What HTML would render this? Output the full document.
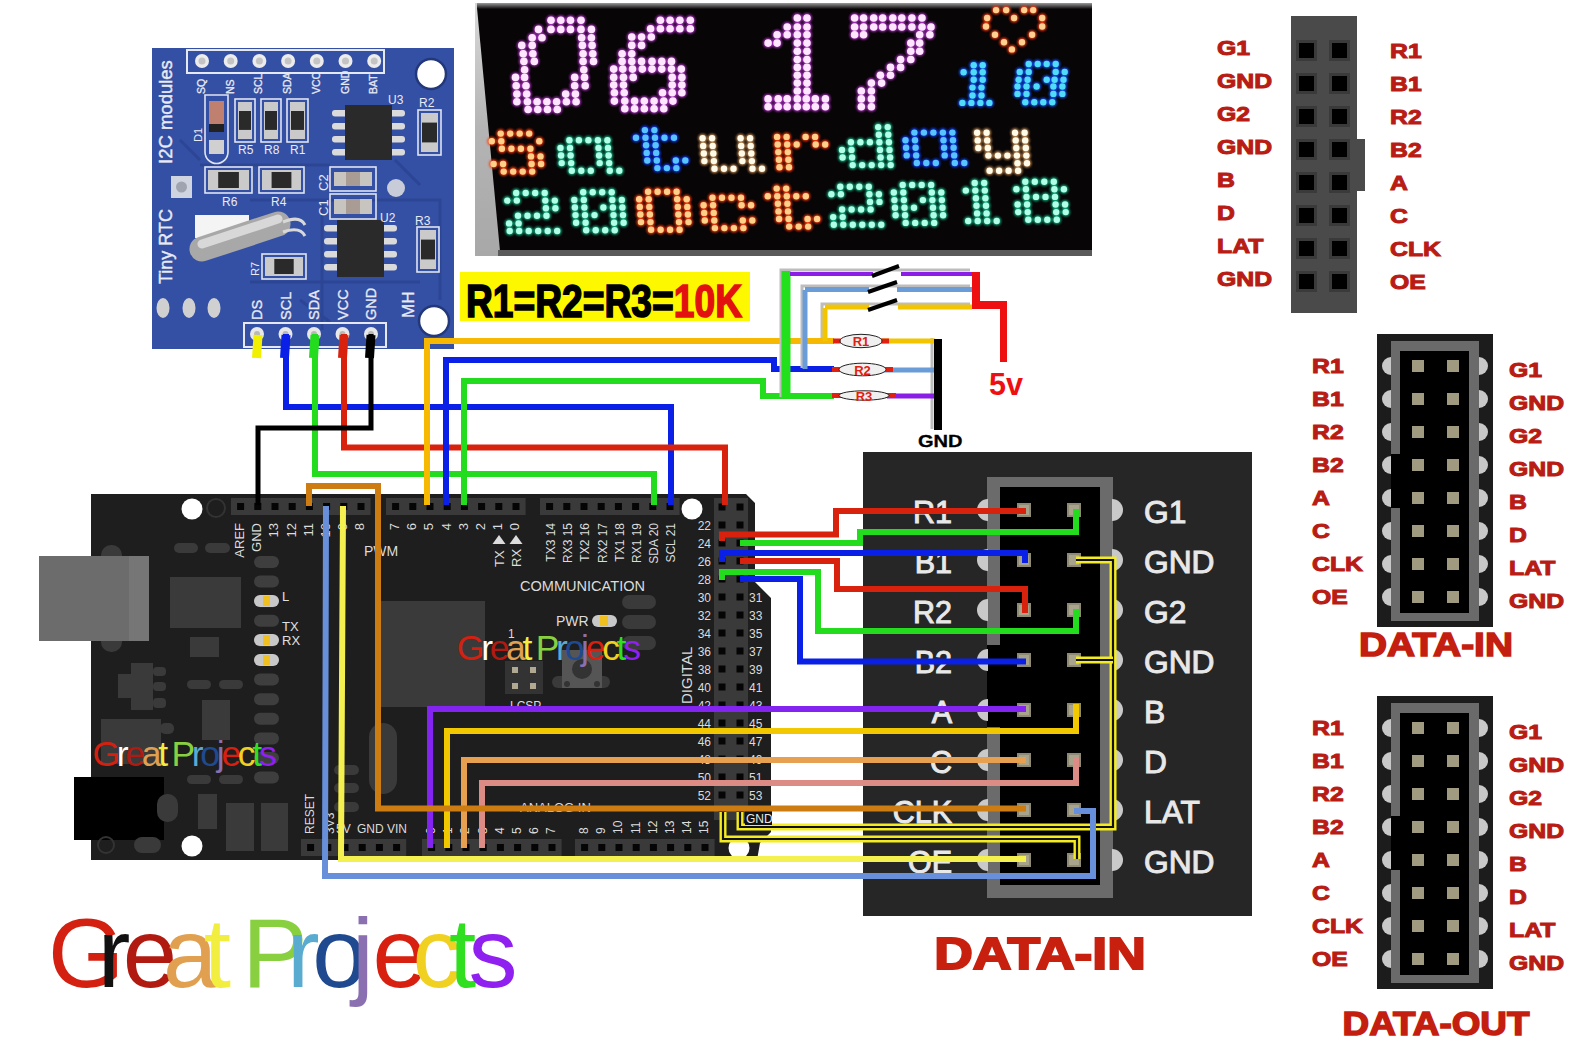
<!DOCTYPE html>
<html><head><meta charset="utf-8"><style>
html,body{margin:0;padding:0;background:#fff;}
svg{display:block;}
</style></head><body>
<svg width="1580" height="1045" viewBox="0 0 1580 1045">
<rect width="1580" height="1045" fill="#ffffff"/>
<g id="rtc">
<rect x="152" y="48" width="302" height="301" fill="#3450a4"/>
<path d="M200 165 L330 165 M250 200 L440 200 L440 300 M322 205 L322 330 M250 282 L420 282 M180 140 L200 160 M395 160 L420 185 M300 300 L330 322" stroke="#2c4594" stroke-width="3" fill="none"/>
<rect x="187" y="50" width="197" height="23" fill="none" stroke="#e6e8f0" stroke-width="2"/>
<circle cx="202.0" cy="61" r="7" fill="#ececec"/><circle cx="202.0" cy="61" r="3.5" fill="#c4c4c4"/>
<circle cx="230.7" cy="61" r="7" fill="#ececec"/><circle cx="230.7" cy="61" r="3.5" fill="#c4c4c4"/>
<circle cx="259.4" cy="61" r="7" fill="#ececec"/><circle cx="259.4" cy="61" r="3.5" fill="#c4c4c4"/>
<circle cx="288.1" cy="61" r="7" fill="#ececec"/><circle cx="288.1" cy="61" r="3.5" fill="#c4c4c4"/>
<circle cx="316.8" cy="61" r="7" fill="#ececec"/><circle cx="316.8" cy="61" r="3.5" fill="#c4c4c4"/>
<circle cx="345.5" cy="61" r="7" fill="#ececec"/><circle cx="345.5" cy="61" r="3.5" fill="#c4c4c4"/>
<circle cx="374.2" cy="61" r="7" fill="#ececec"/><circle cx="374.2" cy="61" r="3.5" fill="#c4c4c4"/>
<text transform="translate(205.0,94) rotate(-90)" font-family='"Liberation Sans", sans-serif' font-size="10.5" fill="#e8eaf4" stroke="#e8eaf4" stroke-width="0.3">SQ</text>
<text transform="translate(233.7,94) rotate(-90)" font-family='"Liberation Sans", sans-serif' font-size="10.5" fill="#e8eaf4" stroke="#e8eaf4" stroke-width="0.3">NS</text>
<text transform="translate(262.4,94) rotate(-90)" font-family='"Liberation Sans", sans-serif' font-size="10.5" fill="#e8eaf4" stroke="#e8eaf4" stroke-width="0.3">SCL</text>
<text transform="translate(291.1,94) rotate(-90)" font-family='"Liberation Sans", sans-serif' font-size="10.5" fill="#e8eaf4" stroke="#e8eaf4" stroke-width="0.3">SDA</text>
<text transform="translate(319.8,94) rotate(-90)" font-family='"Liberation Sans", sans-serif' font-size="10.5" fill="#e8eaf4" stroke="#e8eaf4" stroke-width="0.3">VCC</text>
<text transform="translate(348.5,94) rotate(-90)" font-family='"Liberation Sans", sans-serif' font-size="10.5" fill="#e8eaf4" stroke="#e8eaf4" stroke-width="0.3">GND</text>
<text transform="translate(377.2,94) rotate(-90)" font-family='"Liberation Sans", sans-serif' font-size="10.5" fill="#e8eaf4" stroke="#e8eaf4" stroke-width="0.3">BAT</text>
<circle cx="431" cy="74" r="15" fill="#fff" stroke="#23387a" stroke-width="2.5"/>
<circle cx="434" cy="321" r="15" fill="#fff" stroke="#23387a" stroke-width="2.5"/>
<rect x="332" y="110" width="17" height="6.5" rx="3" fill="#dadada"/>
<rect x="388" y="110" width="17" height="6.5" rx="3" fill="#dadada"/>
<rect x="332" y="123" width="17" height="6.5" rx="3" fill="#dadada"/>
<rect x="388" y="123" width="17" height="6.5" rx="3" fill="#dadada"/>
<rect x="332" y="136" width="17" height="6.5" rx="3" fill="#dadada"/>
<rect x="388" y="136" width="17" height="6.5" rx="3" fill="#dadada"/>
<rect x="332" y="149" width="17" height="6.5" rx="3" fill="#dadada"/>
<rect x="388" y="149" width="17" height="6.5" rx="3" fill="#dadada"/>
<rect x="345" y="105" width="47" height="55" fill="#2a2a2a"/>
<rect x="324" y="225" width="17" height="6.5" rx="3" fill="#dadada"/>
<rect x="380" y="225" width="17" height="6.5" rx="3" fill="#dadada"/>
<rect x="324" y="238" width="17" height="6.5" rx="3" fill="#dadada"/>
<rect x="380" y="238" width="17" height="6.5" rx="3" fill="#dadada"/>
<rect x="324" y="251" width="17" height="6.5" rx="3" fill="#dadada"/>
<rect x="380" y="251" width="17" height="6.5" rx="3" fill="#dadada"/>
<rect x="324" y="264" width="17" height="6.5" rx="3" fill="#dadada"/>
<rect x="380" y="264" width="17" height="6.5" rx="3" fill="#dadada"/>
<rect x="337" y="220" width="47" height="57" fill="#2a2a2a"/>
<rect x="235" y="99" width="20" height="43" fill="none" stroke="#e0e4f0" stroke-width="1.6"/>
<rect x="238" y="102" width="14" height="37" fill="#cacaca"/>
<rect x="239" y="111.0" width="12" height="18.9" fill="#2a2a2a"/>
<rect x="261" y="99" width="20" height="43" fill="none" stroke="#e0e4f0" stroke-width="1.6"/>
<rect x="264" y="102" width="14" height="37" fill="#cacaca"/>
<rect x="265" y="111.0" width="12" height="18.9" fill="#2a2a2a"/>
<rect x="287" y="99" width="21" height="43" fill="none" stroke="#e0e4f0" stroke-width="1.6"/>
<rect x="290" y="102" width="15" height="37" fill="#cacaca"/>
<rect x="291" y="111.0" width="13" height="18.9" fill="#2a2a2a"/>
<rect x="418" y="110" width="23" height="45" fill="none" stroke="#e0e4f0" stroke-width="1.6"/>
<rect x="421" y="113" width="17" height="39" fill="#cacaca"/>
<rect x="422" y="122.6" width="15" height="19.8" fill="#2a2a2a"/>
<rect x="417" y="227" width="22" height="45" fill="none" stroke="#e0e4f0" stroke-width="1.6"/>
<rect x="420" y="230" width="16" height="39" fill="#cacaca"/>
<rect x="421" y="239.6" width="14" height="19.8" fill="#2a2a2a"/>
<rect x="205" y="167" width="47" height="26" fill="none" stroke="#e0e4f0" stroke-width="1.6"/>
<rect x="208" y="170" width="41" height="20" fill="#cacaca"/>
<rect x="218.2" y="172" width="20.7" height="16" fill="#2a2a2a"/>
<rect x="259" y="167" width="45" height="26" fill="none" stroke="#e0e4f0" stroke-width="1.6"/>
<rect x="262" y="170" width="39" height="20" fill="#cacaca"/>
<rect x="271.6" y="172" width="19.8" height="16" fill="#2a2a2a"/>
<rect x="262" y="254" width="44" height="25" fill="none" stroke="#e0e4f0" stroke-width="1.6"/>
<rect x="265" y="257" width="38" height="19" fill="#cacaca"/>
<rect x="274.3" y="259" width="19.4" height="15" fill="#2a2a2a"/>
<rect x="330" y="167" width="46" height="24" fill="none" stroke="#e0e4f0" stroke-width="1.6"/>
<rect x="334" y="172" width="38" height="14" fill="#c8c4c0"/><rect x="346" y="172" width="14" height="14" fill="#a89c94"/>
<rect x="330" y="194" width="46" height="25" fill="none" stroke="#e0e4f0" stroke-width="1.6"/>
<rect x="334" y="199" width="38" height="15" fill="#c8c4c0"/><rect x="346" y="199" width="14" height="15" fill="#a89c94"/>
<path d="M205 95 H228 V152 A11.5 11.5 0 0 1 205 152 Z" fill="none" stroke="#e0e4f0" stroke-width="1.6"/>
<rect x="209" y="101" width="15" height="30" fill="#c08070"/><rect x="209" y="124" width="15" height="8" fill="#222"/><rect x="209" y="140" width="15" height="14" fill="#d0d0d0"/>
<rect x="171" y="176" width="21" height="22" fill="#d0d4e0"/><circle cx="181.5" cy="187" r="5.5" fill="#a0a4b0"/>
<circle cx="396" cy="188" r="9" fill="#c8ccd8"/>
<rect x="195" y="215" width="54" height="23" fill="#f4f4f4"/>
<line x1="202" y1="249" x2="278" y2="224" stroke="#a8a8a8" stroke-width="25" stroke-linecap="round"/>
<line x1="202" y1="244" x2="278" y2="219" stroke="#d8d8d8" stroke-width="9" stroke-linecap="round"/>
<path d="M283 222 Q300 215 305 225 M283 232 Q300 226 305 236" stroke="#d8d8d8" stroke-width="3" fill="none"/>
<ellipse cx="163" cy="308" rx="6.5" ry="10" fill="#d0d0d0"/>
<ellipse cx="189" cy="308" rx="6.5" ry="10" fill="#d0d0d0"/>
<ellipse cx="214" cy="308" rx="6.5" ry="10" fill="#d0d0d0"/>
<text transform="translate(172,164) rotate(-90)" font-family='"Liberation Sans", sans-serif' font-size="18.5" fill="#e8eaf4" stroke="#e8eaf4" stroke-width="0.4">I2C  modules</text>
<text transform="translate(172,284) rotate(-90)" font-family='"Liberation Sans", sans-serif' font-size="18" fill="#e8eaf4" stroke="#e8eaf4" stroke-width="0.4">Tiny RTC</text>
<text x="238" y="154" font-family='"Liberation Sans", sans-serif' font-size="12" fill="#e8eaf4">R5</text>
<text x="264" y="154" font-family='"Liberation Sans", sans-serif' font-size="12" fill="#e8eaf4">R8</text>
<text x="290" y="154" font-family='"Liberation Sans", sans-serif' font-size="12" fill="#e8eaf4">R1</text>
<text x="222" y="206" font-family='"Liberation Sans", sans-serif' font-size="12" fill="#e8eaf4">R6</text>
<text x="271" y="206" font-family='"Liberation Sans", sans-serif' font-size="12" fill="#e8eaf4">R4</text>
<text x="388" y="104" font-family='"Liberation Sans", sans-serif' font-size="12" fill="#e8eaf4">U3</text>
<text x="419" y="107" font-family='"Liberation Sans", sans-serif' font-size="12" fill="#e8eaf4">R2</text>
<text x="380" y="222" font-family='"Liberation Sans", sans-serif' font-size="12" fill="#e8eaf4">U2</text>
<text x="415" y="225" font-family='"Liberation Sans", sans-serif' font-size="12" fill="#e8eaf4">R3</text>
<text transform="translate(328,191) rotate(-90)" font-family='"Liberation Sans", sans-serif' font-size="13" fill="#e8eaf4">C2</text>
<text transform="translate(328,216) rotate(-90)" font-family='"Liberation Sans", sans-serif' font-size="13" fill="#e8eaf4">C1</text>
<text transform="translate(202,142) rotate(-90)" font-family='"Liberation Sans", sans-serif' font-size="11" fill="#e8eaf4">D1</text>
<text transform="translate(259,276) rotate(-90)" font-family='"Liberation Sans", sans-serif' font-size="11" fill="#e8eaf4">R7</text>
<text transform="translate(262.0,320) rotate(-90)" font-family='"Liberation Sans", sans-serif' font-size="14.5" fill="#e8eaf4" stroke="#e8eaf4" stroke-width="0.3">DS</text>
<text transform="translate(290.6,320) rotate(-90)" font-family='"Liberation Sans", sans-serif' font-size="14.5" fill="#e8eaf4" stroke="#e8eaf4" stroke-width="0.3">SCL</text>
<text transform="translate(319.2,320) rotate(-90)" font-family='"Liberation Sans", sans-serif' font-size="14.5" fill="#e8eaf4" stroke="#e8eaf4" stroke-width="0.3">SDA</text>
<text transform="translate(347.8,320) rotate(-90)" font-family='"Liberation Sans", sans-serif' font-size="14.5" fill="#e8eaf4" stroke="#e8eaf4" stroke-width="0.3">VCC</text>
<text transform="translate(376.4,320) rotate(-90)" font-family='"Liberation Sans", sans-serif' font-size="14.5" fill="#e8eaf4" stroke="#e8eaf4" stroke-width="0.3">GND</text>
<text transform="translate(414,318) rotate(-90)" font-family='"Liberation Sans", sans-serif' font-size="17" fill="#e8eaf4" stroke="#e8eaf4" stroke-width="0.3">MH</text>
<rect x="244" y="323" width="142" height="24" fill="none" stroke="#e6e8f0" stroke-width="2"/>
<circle cx="257.0" cy="334" r="7" fill="#e8e8e8"/><circle cx="257.0" cy="334" r="3" fill="#b8b8b8"/>
<circle cx="285.5" cy="334" r="7" fill="#e8e8e8"/><circle cx="285.5" cy="334" r="3" fill="#b8b8b8"/>
<circle cx="314.0" cy="334" r="7" fill="#e8e8e8"/><circle cx="314.0" cy="334" r="3" fill="#b8b8b8"/>
<circle cx="342.5" cy="334" r="7" fill="#e8e8e8"/><circle cx="342.5" cy="334" r="3" fill="#b8b8b8"/>
<circle cx="371.0" cy="334" r="7" fill="#e8e8e8"/><circle cx="371.0" cy="334" r="3" fill="#b8b8b8"/>
</g>
<defs><linearGradient id="pg" x1="0" y1="0" x2="0" y2="1"><stop offset="0" stop-color="#d8d8d8"/><stop offset="0.5" stop-color="#b4b4b4"/><stop offset="1" stop-color="#a8a8a8"/></linearGradient></defs>
<defs><linearGradient id="tg" x1="0" y1="0" x2="0" y2="1"><stop offset="0" stop-color="#9a9a9a"/><stop offset="1" stop-color="#0a0808"/></linearGradient></defs>
<rect x="475" y="3" width="617" height="253" fill="url(#pg)"/>
<polygon points="477,8 1092,5 1092,251 500,251" fill="#080506"/>
<rect x="477" y="3" width="615" height="6" fill="url(#tg)"/>
<rect x="498" y="250" width="594" height="6" fill="#5a5a5a"/>
<rect x="460" y="272" width="290" height="49" fill="#fdf800"/>
<text x="466" y="317" font-family='"Liberation Sans", sans-serif' font-size="46" font-weight="bold" fill="#000" stroke="#000" stroke-width="1.6" textLength="276" lengthAdjust="spacingAndGlyphs">R1=R2=R3=<tspan fill="#e31010" stroke="#e31010">10K</tspan></text>
<g id="ard">
<polygon points="91,494 746,494 755,503 755,582 771,598 771,832 760,843 757,860 91,860" fill="#1e1e1e"/>
<rect x="101" y="545" width="21" height="107" rx="10" fill="#3a3a3a"/>
<rect x="39" y="556" width="90" height="85" fill="#6c6c6c"/><rect x="129" y="556" width="20" height="85" fill="#767676"/>
<rect x="74" y="777" width="90" height="63" fill="#000"/>
<circle cx="192" cy="509" r="10.5" fill="#fff"/>
<circle cx="192" cy="846" r="10.5" fill="#fff"/>
<circle cx="692" cy="509" r="10.5" fill="#fff"/>
<circle cx="739" cy="848" r="10.5" fill="#fff"/>
<circle cx="216" cy="508" r="9" fill="none" stroke="#333" stroke-width="2"/>
<circle cx="106" cy="845" r="8" fill="none" stroke="#333" stroke-width="2"/>
<rect x="170" y="577" width="71" height="51" rx="0" fill="#3a3a3a"/>
<rect x="190" y="637" width="29" height="20" rx="0" fill="#3a3a3a"/>
<rect x="202" y="700" width="28" height="40" rx="0" fill="#3a3a3a"/>
<rect x="375" y="601" width="110" height="106" rx="0" fill="#3a3a3a"/>
<rect x="198" y="794" width="19" height="35" rx="0" fill="#3a3a3a"/>
<rect x="226" y="803" width="28" height="48" rx="0" fill="#3a3a3a"/>
<rect x="261" y="803" width="27" height="48" rx="0" fill="#3a3a3a"/>
<rect x="131" y="663" width="22" height="47" rx="0" fill="#3a3a3a"/>
<rect x="118" y="674" width="14" height="24" rx="0" fill="#3a3a3a"/>
<rect x="153" y="667" width="13" height="9" rx="4" fill="#3a3a3a"/>
<rect x="153" y="682" width="13" height="9" rx="4" fill="#3a3a3a"/>
<rect x="153" y="698" width="13" height="10" rx="4" fill="#3a3a3a"/>
<rect x="101" y="719" width="60" height="45" rx="0" fill="#3a3a3a"/>
<rect x="160" y="723" width="14" height="11" rx="5" fill="#3a3a3a"/>
<rect x="157" y="794" width="21" height="28" rx="10" fill="#3a3a3a"/>
<rect x="134" y="837" width="27" height="16" rx="8" fill="#3a3a3a"/>
<rect x="369" y="723" width="28" height="71" rx="14" fill="#3a3a3a"/>
<rect x="174" y="543" width="24" height="10" rx="5" fill="#3a3a3a"/>
<rect x="205" y="543" width="25" height="10" rx="5" fill="#3a3a3a"/>
<rect x="187" y="680" width="24" height="9" rx="4.5" fill="#3a3a3a"/>
<rect x="219" y="680" width="24" height="9" rx="4.5" fill="#3a3a3a"/>
<rect x="187" y="775" width="24" height="9" rx="4.5" fill="#3a3a3a"/>
<rect x="219" y="775" width="24" height="9" rx="4.5" fill="#3a3a3a"/>
<rect x="334" y="765" width="25" height="10" rx="5" fill="#3a3a3a"/>
<rect x="334" y="783" width="25" height="10" rx="5" fill="#3a3a3a"/>
<rect x="334" y="802" width="25" height="10" rx="5" fill="#3a3a3a"/>
<rect x="254" y="556.0" width="25" height="12" rx="6" fill="#3e3e3e"/>
<rect x="254" y="575.6" width="25" height="12" rx="6" fill="#3e3e3e"/>
<rect x="254" y="595.2" width="25" height="12" rx="6" fill="#3e3e3e"/>
<rect x="254" y="614.8" width="25" height="12" rx="6" fill="#3e3e3e"/>
<rect x="254" y="634.4" width="25" height="12" rx="6" fill="#3e3e3e"/>
<rect x="254" y="654.0" width="25" height="12" rx="6" fill="#3e3e3e"/>
<rect x="254" y="673.6" width="25" height="12" rx="6" fill="#3e3e3e"/>
<rect x="254" y="693.2" width="25" height="12" rx="6" fill="#3e3e3e"/>
<rect x="254" y="712.8" width="25" height="12" rx="6" fill="#3e3e3e"/>
<rect x="254" y="732.4" width="25" height="12" rx="6" fill="#3e3e3e"/>
<rect x="254" y="752.0" width="25" height="12" rx="6" fill="#3e3e3e"/>
<rect x="254" y="771.6" width="25" height="12" rx="6" fill="#3e3e3e"/>
<rect x="254" y="595" width="25" height="12" rx="6" fill="#c8c8c8"/><rect x="263" y="596" width="7" height="10" fill="#f0c020"/>
<rect x="254" y="634" width="25" height="12" rx="6" fill="#c8c8c8"/><rect x="263" y="635" width="7" height="10" fill="#f0c020"/>
<rect x="254" y="654" width="25" height="12" rx="6" fill="#c8c8c8"/><rect x="263" y="655" width="7" height="10" fill="#f0c020"/>
<text x="282" y="601" font-family='"Liberation Sans", sans-serif' font-size="13" fill="#e0e0e0">L</text>
<text x="282" y="631" font-family='"Liberation Sans", sans-serif' font-size="13" fill="#e0e0e0">TX</text>
<text x="282" y="645" font-family='"Liberation Sans", sans-serif' font-size="13" fill="#e0e0e0">RX</text>
<rect x="231" y="498" width="139.6" height="17" fill="#3a3a3a"/>
<rect x="237.1" y="503.0" width="7" height="7" fill="#050505"/>
<rect x="254.3" y="503.0" width="7" height="7" fill="#050505"/>
<rect x="271.5" y="503.0" width="7" height="7" fill="#050505"/>
<rect x="288.7" y="503.0" width="7" height="7" fill="#050505"/>
<rect x="305.9" y="503.0" width="7" height="7" fill="#050505"/>
<rect x="323.1" y="503.0" width="7" height="7" fill="#050505"/>
<rect x="340.3" y="503.0" width="7" height="7" fill="#050505"/>
<rect x="357.5" y="503.0" width="7" height="7" fill="#050505"/>
<rect x="386" y="498" width="139.6" height="17" fill="#3a3a3a"/>
<rect x="392.1" y="503.0" width="7" height="7" fill="#050505"/>
<rect x="409.3" y="503.0" width="7" height="7" fill="#050505"/>
<rect x="426.5" y="503.0" width="7" height="7" fill="#050505"/>
<rect x="443.7" y="503.0" width="7" height="7" fill="#050505"/>
<rect x="460.9" y="503.0" width="7" height="7" fill="#050505"/>
<rect x="478.1" y="503.0" width="7" height="7" fill="#050505"/>
<rect x="495.3" y="503.0" width="7" height="7" fill="#050505"/>
<rect x="512.5" y="503.0" width="7" height="7" fill="#050505"/>
<rect x="540" y="498" width="139.6" height="17" fill="#3a3a3a"/>
<rect x="546.1" y="503.0" width="7" height="7" fill="#050505"/>
<rect x="563.3" y="503.0" width="7" height="7" fill="#050505"/>
<rect x="580.5" y="503.0" width="7" height="7" fill="#050505"/>
<rect x="597.7" y="503.0" width="7" height="7" fill="#050505"/>
<rect x="614.9" y="503.0" width="7" height="7" fill="#050505"/>
<rect x="632.1" y="503.0" width="7" height="7" fill="#050505"/>
<rect x="649.3" y="503.0" width="7" height="7" fill="#050505"/>
<rect x="666.5" y="503.0" width="7" height="7" fill="#050505"/>
<rect x="301" y="839" width="105.2" height="17" fill="#3a3a3a"/>
<rect x="307.1" y="844.0" width="7" height="7" fill="#050505"/>
<rect x="324.3" y="844.0" width="7" height="7" fill="#050505"/>
<rect x="341.5" y="844.0" width="7" height="7" fill="#050505"/>
<rect x="358.7" y="844.0" width="7" height="7" fill="#050505"/>
<rect x="375.9" y="844.0" width="7" height="7" fill="#050505"/>
<rect x="393.1" y="844.0" width="7" height="7" fill="#050505"/>
<rect x="422" y="839" width="139.6" height="17" fill="#3a3a3a"/>
<rect x="428.1" y="844.0" width="7" height="7" fill="#050505"/>
<rect x="445.3" y="844.0" width="7" height="7" fill="#050505"/>
<rect x="462.5" y="844.0" width="7" height="7" fill="#050505"/>
<rect x="479.7" y="844.0" width="7" height="7" fill="#050505"/>
<rect x="496.9" y="844.0" width="7" height="7" fill="#050505"/>
<rect x="514.1" y="844.0" width="7" height="7" fill="#050505"/>
<rect x="531.3" y="844.0" width="7" height="7" fill="#050505"/>
<rect x="548.5" y="844.0" width="7" height="7" fill="#050505"/>
<rect x="575" y="839" width="139.6" height="17" fill="#3a3a3a"/>
<rect x="581.1" y="844.0" width="7" height="7" fill="#050505"/>
<rect x="598.3" y="844.0" width="7" height="7" fill="#050505"/>
<rect x="615.5" y="844.0" width="7" height="7" fill="#050505"/>
<rect x="632.7" y="844.0" width="7" height="7" fill="#050505"/>
<rect x="649.9" y="844.0" width="7" height="7" fill="#050505"/>
<rect x="667.1" y="844.0" width="7" height="7" fill="#050505"/>
<rect x="684.3" y="844.0" width="7" height="7" fill="#050505"/>
<rect x="701.5" y="844.0" width="7" height="7" fill="#050505"/>
<rect x="714" y="498" width="34" height="314" fill="#3a3a3a"/>
<rect x="718.5" y="503.5" width="7" height="7" fill="#050505"/>
<rect x="736.5" y="503.5" width="7" height="7" fill="#050505"/>
<rect x="718.5" y="521.5" width="7" height="7" fill="#050505"/>
<rect x="736.5" y="521.5" width="7" height="7" fill="#050505"/>
<rect x="718.5" y="539.5" width="7" height="7" fill="#050505"/>
<rect x="736.5" y="539.5" width="7" height="7" fill="#050505"/>
<rect x="718.5" y="557.5" width="7" height="7" fill="#050505"/>
<rect x="736.5" y="557.5" width="7" height="7" fill="#050505"/>
<rect x="718.5" y="575.5" width="7" height="7" fill="#050505"/>
<rect x="736.5" y="575.5" width="7" height="7" fill="#050505"/>
<rect x="718.5" y="593.5" width="7" height="7" fill="#050505"/>
<rect x="736.5" y="593.5" width="7" height="7" fill="#050505"/>
<rect x="718.5" y="611.5" width="7" height="7" fill="#050505"/>
<rect x="736.5" y="611.5" width="7" height="7" fill="#050505"/>
<rect x="718.5" y="629.5" width="7" height="7" fill="#050505"/>
<rect x="736.5" y="629.5" width="7" height="7" fill="#050505"/>
<rect x="718.5" y="647.5" width="7" height="7" fill="#050505"/>
<rect x="736.5" y="647.5" width="7" height="7" fill="#050505"/>
<rect x="718.5" y="665.5" width="7" height="7" fill="#050505"/>
<rect x="736.5" y="665.5" width="7" height="7" fill="#050505"/>
<rect x="718.5" y="683.5" width="7" height="7" fill="#050505"/>
<rect x="736.5" y="683.5" width="7" height="7" fill="#050505"/>
<rect x="718.5" y="701.5" width="7" height="7" fill="#050505"/>
<rect x="736.5" y="701.5" width="7" height="7" fill="#050505"/>
<rect x="718.5" y="719.5" width="7" height="7" fill="#050505"/>
<rect x="736.5" y="719.5" width="7" height="7" fill="#050505"/>
<rect x="718.5" y="737.5" width="7" height="7" fill="#050505"/>
<rect x="736.5" y="737.5" width="7" height="7" fill="#050505"/>
<rect x="718.5" y="755.5" width="7" height="7" fill="#050505"/>
<rect x="736.5" y="755.5" width="7" height="7" fill="#050505"/>
<rect x="718.5" y="773.5" width="7" height="7" fill="#050505"/>
<rect x="736.5" y="773.5" width="7" height="7" fill="#050505"/>
<rect x="718.5" y="791.5" width="7" height="7" fill="#050505"/>
<rect x="736.5" y="791.5" width="7" height="7" fill="#050505"/>
<rect x="718.5" y="809.5" width="7" height="7" fill="#050505"/>
<rect x="736.5" y="809.5" width="7" height="7" fill="#050505"/>
<text transform="translate(244.0,523) rotate(-90)" text-anchor="end" font-family='"Liberation Sans", sans-serif' font-size="13" fill="#dcdcdc">AREF</text>
<text transform="translate(261.2,523) rotate(-90)" text-anchor="end" font-family='"Liberation Sans", sans-serif' font-size="13" fill="#dcdcdc">GND</text>
<text transform="translate(278.4,523) rotate(-90)" text-anchor="end" font-family='"Liberation Sans", sans-serif' font-size="13" fill="#dcdcdc">13</text>
<text transform="translate(295.6,523) rotate(-90)" text-anchor="end" font-family='"Liberation Sans", sans-serif' font-size="13" fill="#dcdcdc">12</text>
<text transform="translate(312.8,523) rotate(-90)" text-anchor="end" font-family='"Liberation Sans", sans-serif' font-size="13" fill="#dcdcdc">11</text>
<text transform="translate(330.0,523) rotate(-90)" text-anchor="end" font-family='"Liberation Sans", sans-serif' font-size="13" fill="#dcdcdc">10</text>
<text transform="translate(347.2,523) rotate(-90)" text-anchor="end" font-family='"Liberation Sans", sans-serif' font-size="13" fill="#dcdcdc">9</text>
<text transform="translate(364.4,523) rotate(-90)" text-anchor="end" font-family='"Liberation Sans", sans-serif' font-size="13" fill="#dcdcdc">8</text>
<text transform="translate(399.0,523) rotate(-90)" text-anchor="end" font-family='"Liberation Sans", sans-serif' font-size="13" fill="#dcdcdc">7</text>
<text transform="translate(416.2,523) rotate(-90)" text-anchor="end" font-family='"Liberation Sans", sans-serif' font-size="13" fill="#dcdcdc">6</text>
<text transform="translate(433.4,523) rotate(-90)" text-anchor="end" font-family='"Liberation Sans", sans-serif' font-size="13" fill="#dcdcdc">5</text>
<text transform="translate(450.6,523) rotate(-90)" text-anchor="end" font-family='"Liberation Sans", sans-serif' font-size="13" fill="#dcdcdc">4</text>
<text transform="translate(467.8,523) rotate(-90)" text-anchor="end" font-family='"Liberation Sans", sans-serif' font-size="13" fill="#dcdcdc">3</text>
<text transform="translate(485.0,523) rotate(-90)" text-anchor="end" font-family='"Liberation Sans", sans-serif' font-size="13" fill="#dcdcdc">2</text>
<text transform="translate(502.2,523) rotate(-90)" text-anchor="end" font-family='"Liberation Sans", sans-serif' font-size="13" fill="#dcdcdc">1</text>
<text transform="translate(519.4,523) rotate(-90)" text-anchor="end" font-family='"Liberation Sans", sans-serif' font-size="13" fill="#dcdcdc">0</text>
<text transform="translate(555.0,523) rotate(-90)" text-anchor="end" font-family='"Liberation Sans", sans-serif' font-size="12" fill="#dcdcdc">TX3 14</text>
<text transform="translate(572.2,523) rotate(-90)" text-anchor="end" font-family='"Liberation Sans", sans-serif' font-size="12" fill="#dcdcdc">RX3 15</text>
<text transform="translate(589.4,523) rotate(-90)" text-anchor="end" font-family='"Liberation Sans", sans-serif' font-size="12" fill="#dcdcdc">TX2 16</text>
<text transform="translate(606.6,523) rotate(-90)" text-anchor="end" font-family='"Liberation Sans", sans-serif' font-size="12" fill="#dcdcdc">RX2 17</text>
<text transform="translate(623.8,523) rotate(-90)" text-anchor="end" font-family='"Liberation Sans", sans-serif' font-size="12" fill="#dcdcdc">TX1 18</text>
<text transform="translate(641.0,523) rotate(-90)" text-anchor="end" font-family='"Liberation Sans", sans-serif' font-size="12" fill="#dcdcdc">RX1 19</text>
<text transform="translate(658.2,523) rotate(-90)" text-anchor="end" font-family='"Liberation Sans", sans-serif' font-size="12" fill="#dcdcdc">SDA 20</text>
<text transform="translate(675.4,523) rotate(-90)" text-anchor="end" font-family='"Liberation Sans", sans-serif' font-size="12" fill="#dcdcdc">SCL 21</text>
<polygon points="499,535 492.5,544 505.5,544" fill="#dcdcdc"/><polygon points="516,535 509.5,544 522.5,544" fill="#dcdcdc"/>
<text transform="translate(504,567) rotate(-90)" font-family='"Liberation Sans", sans-serif' font-size="13" fill="#dcdcdc">TX</text>
<text transform="translate(521,567) rotate(-90)" font-family='"Liberation Sans", sans-serif' font-size="13" fill="#dcdcdc">RX</text>
<text x="364" y="556" font-family='"Liberation Sans", sans-serif' font-size="14" fill="#dcdcdc">PWM</text>
<text x="520" y="591" font-family='"Liberation Sans", sans-serif' font-size="14" fill="#dcdcdc" textLength="125" lengthAdjust="spacingAndGlyphs">COMMUNICATION</text>
<text x="556" y="626" font-family='"Liberation Sans", sans-serif' font-size="14" fill="#dcdcdc">PWR</text>
<rect x="592" y="615" width="25" height="12" rx="6" fill="#c8c8c8"/><rect x="600" y="616" width="8" height="10" fill="#f0c020"/>
<rect x="622" y="615" width="34" height="14" rx="7" fill="#3a3a3a"/><rect x="622" y="595" width="34" height="14" rx="7" fill="#3a3a3a"/><rect x="622" y="636" width="34" height="14" rx="7" fill="#3a3a3a"/>
<text x="508" y="638" font-family='"Liberation Sans", sans-serif' font-size="12" fill="#dcdcdc">1</text>
<rect x="505" y="661" width="38" height="33" fill="#333"/>
<rect x="512" y="667" width="6" height="6" fill="#b0a890"/>
<rect x="530" y="667" width="6" height="6" fill="#b0a890"/>
<rect x="512" y="683" width="6" height="6" fill="#b0a890"/>
<rect x="530" y="683" width="6" height="6" fill="#b0a890"/>
<text x="510" y="710" font-family='"Liberation Sans", sans-serif' font-size="12" fill="#dcdcdc">LCSP</text>
<rect x="552" y="676" width="58" height="12" rx="6" fill="#3a3a3a"/>
<rect x="562" y="650" width="40" height="38" fill="#555"/><circle cx="582" cy="669" r="10" fill="#333"/>
<circle cx="567" cy="684" r="3" fill="#333"/><circle cx="597" cy="684" r="3" fill="#333"/>
<text transform="translate(692,704) rotate(-90)" font-family='"Liberation Sans", sans-serif' font-size="15" fill="#dcdcdc">DIGITAL</text>
<text x="711" y="530" text-anchor="end" font-family='"Liberation Sans", sans-serif' font-size="12" fill="#dcdcdc">22</text>
<text x="711" y="548" text-anchor="end" font-family='"Liberation Sans", sans-serif' font-size="12" fill="#dcdcdc">24</text>
<text x="711" y="566" text-anchor="end" font-family='"Liberation Sans", sans-serif' font-size="12" fill="#dcdcdc">26</text>
<text x="711" y="584" text-anchor="end" font-family='"Liberation Sans", sans-serif' font-size="12" fill="#dcdcdc">28</text>
<text x="711" y="602" text-anchor="end" font-family='"Liberation Sans", sans-serif' font-size="12" fill="#dcdcdc">30</text>
<text x="749" y="602" font-family='"Liberation Sans", sans-serif' font-size="12" fill="#dcdcdc">31</text>
<text x="711" y="620" text-anchor="end" font-family='"Liberation Sans", sans-serif' font-size="12" fill="#dcdcdc">32</text>
<text x="749" y="620" font-family='"Liberation Sans", sans-serif' font-size="12" fill="#dcdcdc">33</text>
<text x="711" y="638" text-anchor="end" font-family='"Liberation Sans", sans-serif' font-size="12" fill="#dcdcdc">34</text>
<text x="749" y="638" font-family='"Liberation Sans", sans-serif' font-size="12" fill="#dcdcdc">35</text>
<text x="711" y="656" text-anchor="end" font-family='"Liberation Sans", sans-serif' font-size="12" fill="#dcdcdc">36</text>
<text x="749" y="656" font-family='"Liberation Sans", sans-serif' font-size="12" fill="#dcdcdc">37</text>
<text x="711" y="674" text-anchor="end" font-family='"Liberation Sans", sans-serif' font-size="12" fill="#dcdcdc">38</text>
<text x="749" y="674" font-family='"Liberation Sans", sans-serif' font-size="12" fill="#dcdcdc">39</text>
<text x="711" y="692" text-anchor="end" font-family='"Liberation Sans", sans-serif' font-size="12" fill="#dcdcdc">40</text>
<text x="749" y="692" font-family='"Liberation Sans", sans-serif' font-size="12" fill="#dcdcdc">41</text>
<text x="711" y="710" text-anchor="end" font-family='"Liberation Sans", sans-serif' font-size="12" fill="#dcdcdc">42</text>
<text x="749" y="710" font-family='"Liberation Sans", sans-serif' font-size="12" fill="#dcdcdc">43</text>
<text x="711" y="728" text-anchor="end" font-family='"Liberation Sans", sans-serif' font-size="12" fill="#dcdcdc">44</text>
<text x="749" y="728" font-family='"Liberation Sans", sans-serif' font-size="12" fill="#dcdcdc">45</text>
<text x="711" y="746" text-anchor="end" font-family='"Liberation Sans", sans-serif' font-size="12" fill="#dcdcdc">46</text>
<text x="749" y="746" font-family='"Liberation Sans", sans-serif' font-size="12" fill="#dcdcdc">47</text>
<text x="711" y="764" text-anchor="end" font-family='"Liberation Sans", sans-serif' font-size="12" fill="#dcdcdc">48</text>
<text x="749" y="764" font-family='"Liberation Sans", sans-serif' font-size="12" fill="#dcdcdc">49</text>
<text x="711" y="782" text-anchor="end" font-family='"Liberation Sans", sans-serif' font-size="12" fill="#dcdcdc">50</text>
<text x="749" y="782" font-family='"Liberation Sans", sans-serif' font-size="12" fill="#dcdcdc">51</text>
<text x="711" y="800" text-anchor="end" font-family='"Liberation Sans", sans-serif' font-size="12" fill="#dcdcdc">52</text>
<text x="749" y="800" font-family='"Liberation Sans", sans-serif' font-size="12" fill="#dcdcdc">53</text>
<text x="520" y="812" font-family='"Liberation Sans", sans-serif' font-size="13" fill="#dcdcdc">ANALOG IN</text>
<rect x="714" y="812" width="34" height="8" fill="#3a3a3a"/>
<text transform="translate(314,834) rotate(-90)" font-family='"Liberation Sans", sans-serif' font-size="12" fill="#dcdcdc">RESET</text>
<text transform="translate(334,834) rotate(-90)" font-family='"Liberation Sans", sans-serif' font-size="12" fill="#dcdcdc">3V3</text>
<text x="336" y="833" font-family='"Liberation Sans", sans-serif' font-size="12" fill="#dcdcdc">5V</text>
<text x="357" y="833" font-family='"Liberation Sans", sans-serif' font-size="12" fill="#dcdcdc">GND VIN</text>
<text transform="translate(435.0,834) rotate(-90)" font-family='"Liberation Sans", sans-serif' font-size="12" fill="#dcdcdc">0</text>
<text transform="translate(452.2,834) rotate(-90)" font-family='"Liberation Sans", sans-serif' font-size="12" fill="#dcdcdc">1</text>
<text transform="translate(469.4,834) rotate(-90)" font-family='"Liberation Sans", sans-serif' font-size="12" fill="#dcdcdc">2</text>
<text transform="translate(486.6,834) rotate(-90)" font-family='"Liberation Sans", sans-serif' font-size="12" fill="#dcdcdc">3</text>
<text transform="translate(503.8,834) rotate(-90)" font-family='"Liberation Sans", sans-serif' font-size="12" fill="#dcdcdc">4</text>
<text transform="translate(521.0,834) rotate(-90)" font-family='"Liberation Sans", sans-serif' font-size="12" fill="#dcdcdc">5</text>
<text transform="translate(538.2,834) rotate(-90)" font-family='"Liberation Sans", sans-serif' font-size="12" fill="#dcdcdc">6</text>
<text transform="translate(555.4,834) rotate(-90)" font-family='"Liberation Sans", sans-serif' font-size="12" fill="#dcdcdc">7</text>
<text transform="translate(588.0,834) rotate(-90)" font-family='"Liberation Sans", sans-serif' font-size="12" fill="#dcdcdc">8</text>
<text transform="translate(605.2,834) rotate(-90)" font-family='"Liberation Sans", sans-serif' font-size="12" fill="#dcdcdc">9</text>
<text transform="translate(622.4,834) rotate(-90)" font-family='"Liberation Sans", sans-serif' font-size="12" fill="#dcdcdc">10</text>
<text transform="translate(639.6,834) rotate(-90)" font-family='"Liberation Sans", sans-serif' font-size="12" fill="#dcdcdc">11</text>
<text transform="translate(656.8,834) rotate(-90)" font-family='"Liberation Sans", sans-serif' font-size="12" fill="#dcdcdc">12</text>
<text transform="translate(674.0,834) rotate(-90)" font-family='"Liberation Sans", sans-serif' font-size="12" fill="#dcdcdc">13</text>
<text transform="translate(691.2,834) rotate(-90)" font-family='"Liberation Sans", sans-serif' font-size="12" fill="#dcdcdc">14</text>
<text transform="translate(708.4,834) rotate(-90)" font-family='"Liberation Sans", sans-serif' font-size="12" fill="#dcdcdc">15</text>
<text transform="translate(312,834) rotate(-90)" font-family='"Liberation Sans", sans-serif' font-size="12" fill="#dcdcdc"></text>
</g>
<rect x="863" y="452" width="389" height="464" fill="#262626"/>
<path d="M987 477 H1113 V898 H987 V727 H1000 V645 H987 Z" fill="#6b6b6b"/>
<rect x="1000" y="487" width="100" height="398" fill="#000"/>
<rect x="987" y="645" width="13" height="82" fill="#000"/>
<path d="M988 499 A11 11 0 0 0 988 521 Z" fill="#c9c9c9"/>
<path d="M1112 499 A11 11 0 0 1 1112 521 Z" fill="#c9c9c9"/>
<rect x="1017" y="503" width="14" height="14" fill="#8f8a74"/><rect x="1019" y="505" width="10" height="10" fill="#a8a38c"/>
<rect x="1067" y="503" width="14" height="14" fill="#8f8a74"/><rect x="1069" y="505" width="10" height="10" fill="#a8a38c"/>
<path d="M988 549 A11 11 0 0 0 988 571 Z" fill="#c9c9c9"/>
<path d="M1112 549 A11 11 0 0 1 1112 571 Z" fill="#c9c9c9"/>
<rect x="1017" y="553" width="14" height="14" fill="#8f8a74"/><rect x="1019" y="555" width="10" height="10" fill="#a8a38c"/>
<rect x="1067" y="553" width="14" height="14" fill="#8f8a74"/><rect x="1069" y="555" width="10" height="10" fill="#a8a38c"/>
<path d="M988 599 A11 11 0 0 0 988 621 Z" fill="#c9c9c9"/>
<path d="M1112 599 A11 11 0 0 1 1112 621 Z" fill="#c9c9c9"/>
<rect x="1017" y="603" width="14" height="14" fill="#8f8a74"/><rect x="1019" y="605" width="10" height="10" fill="#a8a38c"/>
<rect x="1067" y="603" width="14" height="14" fill="#8f8a74"/><rect x="1069" y="605" width="10" height="10" fill="#a8a38c"/>
<path d="M988 649 A11 11 0 0 0 988 671 Z" fill="#c9c9c9"/>
<path d="M1112 649 A11 11 0 0 1 1112 671 Z" fill="#c9c9c9"/>
<rect x="1017" y="653" width="14" height="14" fill="#8f8a74"/><rect x="1019" y="655" width="10" height="10" fill="#a8a38c"/>
<rect x="1067" y="653" width="14" height="14" fill="#8f8a74"/><rect x="1069" y="655" width="10" height="10" fill="#a8a38c"/>
<path d="M988 699 A11 11 0 0 0 988 721 Z" fill="#c9c9c9"/>
<path d="M1112 699 A11 11 0 0 1 1112 721 Z" fill="#c9c9c9"/>
<rect x="1017" y="703" width="14" height="14" fill="#8f8a74"/><rect x="1019" y="705" width="10" height="10" fill="#a8a38c"/>
<rect x="1067" y="703" width="14" height="14" fill="#8f8a74"/><rect x="1069" y="705" width="10" height="10" fill="#a8a38c"/>
<path d="M988 749 A11 11 0 0 0 988 771 Z" fill="#c9c9c9"/>
<path d="M1112 749 A11 11 0 0 1 1112 771 Z" fill="#c9c9c9"/>
<rect x="1017" y="753" width="14" height="14" fill="#8f8a74"/><rect x="1019" y="755" width="10" height="10" fill="#a8a38c"/>
<rect x="1067" y="753" width="14" height="14" fill="#8f8a74"/><rect x="1069" y="755" width="10" height="10" fill="#a8a38c"/>
<path d="M988 799 A11 11 0 0 0 988 821 Z" fill="#c9c9c9"/>
<path d="M1112 799 A11 11 0 0 1 1112 821 Z" fill="#c9c9c9"/>
<rect x="1017" y="803" width="14" height="14" fill="#8f8a74"/><rect x="1019" y="805" width="10" height="10" fill="#a8a38c"/>
<rect x="1067" y="803" width="14" height="14" fill="#8f8a74"/><rect x="1069" y="805" width="10" height="10" fill="#a8a38c"/>
<path d="M988 849 A11 11 0 0 0 988 871 Z" fill="#c9c9c9"/>
<path d="M1112 849 A11 11 0 0 1 1112 871 Z" fill="#c9c9c9"/>
<rect x="1017" y="853" width="14" height="14" fill="#8f8a74"/><rect x="1019" y="855" width="10" height="10" fill="#a8a38c"/>
<rect x="1067" y="853" width="14" height="14" fill="#8f8a74"/><rect x="1069" y="855" width="10" height="10" fill="#a8a38c"/>
<text transform="translate(952,523) scale(1.0,1)" text-anchor="end" font-family='"Liberation Sans", sans-serif' font-size="30.5" font-weight="normal" fill="#e8e8e8" stroke="#e8e8e8" stroke-width="1.0">R1</text>
<text transform="translate(1144,523) scale(1.04,1)" text-anchor="start" font-family='"Liberation Sans", sans-serif' font-size="30.5" font-weight="normal" fill="#e8e8e8" stroke="#e8e8e8" stroke-width="1.0">G1</text>
<text transform="translate(952,573) scale(1.0,1)" text-anchor="end" font-family='"Liberation Sans", sans-serif' font-size="30.5" font-weight="normal" fill="#e8e8e8" stroke="#e8e8e8" stroke-width="1.0">B1</text>
<text transform="translate(1144,573) scale(1.04,1)" text-anchor="start" font-family='"Liberation Sans", sans-serif' font-size="30.5" font-weight="normal" fill="#e8e8e8" stroke="#e8e8e8" stroke-width="1.0">GND</text>
<text transform="translate(952,623) scale(1.0,1)" text-anchor="end" font-family='"Liberation Sans", sans-serif' font-size="30.5" font-weight="normal" fill="#e8e8e8" stroke="#e8e8e8" stroke-width="1.0">R2</text>
<text transform="translate(1144,623) scale(1.04,1)" text-anchor="start" font-family='"Liberation Sans", sans-serif' font-size="30.5" font-weight="normal" fill="#e8e8e8" stroke="#e8e8e8" stroke-width="1.0">G2</text>
<text transform="translate(952,673) scale(1.0,1)" text-anchor="end" font-family='"Liberation Sans", sans-serif' font-size="30.5" font-weight="normal" fill="#e8e8e8" stroke="#e8e8e8" stroke-width="1.0">B2</text>
<text transform="translate(1144,673) scale(1.04,1)" text-anchor="start" font-family='"Liberation Sans", sans-serif' font-size="30.5" font-weight="normal" fill="#e8e8e8" stroke="#e8e8e8" stroke-width="1.0">GND</text>
<text transform="translate(952,723) scale(1.0,1)" text-anchor="end" font-family='"Liberation Sans", sans-serif' font-size="30.5" font-weight="normal" fill="#e8e8e8" stroke="#e8e8e8" stroke-width="1.0">A</text>
<text transform="translate(1144,723) scale(1.04,1)" text-anchor="start" font-family='"Liberation Sans", sans-serif' font-size="30.5" font-weight="normal" fill="#e8e8e8" stroke="#e8e8e8" stroke-width="1.0">B</text>
<text transform="translate(952,773) scale(1.0,1)" text-anchor="end" font-family='"Liberation Sans", sans-serif' font-size="30.5" font-weight="normal" fill="#e8e8e8" stroke="#e8e8e8" stroke-width="1.0">C</text>
<text transform="translate(1144,773) scale(1.04,1)" text-anchor="start" font-family='"Liberation Sans", sans-serif' font-size="30.5" font-weight="normal" fill="#e8e8e8" stroke="#e8e8e8" stroke-width="1.0">D</text>
<text transform="translate(952,823) scale(1.0,1)" text-anchor="end" font-family='"Liberation Sans", sans-serif' font-size="30.5" font-weight="normal" fill="#e8e8e8" stroke="#e8e8e8" stroke-width="1.0">CLK</text>
<text transform="translate(1144,823) scale(1.04,1)" text-anchor="start" font-family='"Liberation Sans", sans-serif' font-size="30.5" font-weight="normal" fill="#e8e8e8" stroke="#e8e8e8" stroke-width="1.0">LAT</text>
<text transform="translate(952,873) scale(1.0,1)" text-anchor="end" font-family='"Liberation Sans", sans-serif' font-size="30.5" font-weight="normal" fill="#e8e8e8" stroke="#e8e8e8" stroke-width="1.0">OE</text>
<text transform="translate(1144,873) scale(1.04,1)" text-anchor="start" font-family='"Liberation Sans", sans-serif' font-size="30.5" font-weight="normal" fill="#e8e8e8" stroke="#e8e8e8" stroke-width="1.0">GND</text>
<text transform="translate(1040,969) scale(1.2,1)" text-anchor="middle" font-family='"Liberation Sans", sans-serif' font-size="44.5" font-weight="bold" fill="#c8200f" stroke="#c8200f" stroke-width="2.0">DATA-IN</text>
<rect x="1291" y="16" width="66" height="297" fill="#4a4a4a"/>
<rect x="1356" y="139" width="9" height="52" fill="#4a4a4a"/>
<rect x="1296" y="40" width="21" height="21" fill="#3a3a3a"/><rect x="1299" y="43" width="15" height="15" fill="#000"/>
<rect x="1329" y="40" width="21" height="21" fill="#3a3a3a"/><rect x="1332" y="43" width="15" height="15" fill="#000"/>
<rect x="1296" y="73" width="21" height="21" fill="#3a3a3a"/><rect x="1299" y="76" width="15" height="15" fill="#000"/>
<rect x="1329" y="73" width="21" height="21" fill="#3a3a3a"/><rect x="1332" y="76" width="15" height="15" fill="#000"/>
<rect x="1296" y="106" width="21" height="21" fill="#3a3a3a"/><rect x="1299" y="109" width="15" height="15" fill="#000"/>
<rect x="1329" y="106" width="21" height="21" fill="#3a3a3a"/><rect x="1332" y="109" width="15" height="15" fill="#000"/>
<rect x="1296" y="139" width="21" height="21" fill="#3a3a3a"/><rect x="1299" y="142" width="15" height="15" fill="#000"/>
<rect x="1329" y="139" width="21" height="21" fill="#3a3a3a"/><rect x="1332" y="142" width="15" height="15" fill="#000"/>
<rect x="1296" y="172" width="21" height="21" fill="#3a3a3a"/><rect x="1299" y="175" width="15" height="15" fill="#000"/>
<rect x="1329" y="172" width="21" height="21" fill="#3a3a3a"/><rect x="1332" y="175" width="15" height="15" fill="#000"/>
<rect x="1296" y="205" width="21" height="21" fill="#3a3a3a"/><rect x="1299" y="208" width="15" height="15" fill="#000"/>
<rect x="1329" y="205" width="21" height="21" fill="#3a3a3a"/><rect x="1332" y="208" width="15" height="15" fill="#000"/>
<rect x="1296" y="238" width="21" height="21" fill="#3a3a3a"/><rect x="1299" y="241" width="15" height="15" fill="#000"/>
<rect x="1329" y="238" width="21" height="21" fill="#3a3a3a"/><rect x="1332" y="241" width="15" height="15" fill="#000"/>
<rect x="1296" y="271" width="21" height="21" fill="#3a3a3a"/><rect x="1299" y="274" width="15" height="15" fill="#000"/>
<rect x="1329" y="271" width="21" height="21" fill="#3a3a3a"/><rect x="1332" y="274" width="15" height="15" fill="#000"/>
<text transform="translate(1217,55) scale(1.18,1)" text-anchor="start" font-family='"Liberation Sans", sans-serif' font-size="21" font-weight="bold" fill="#b81c14" stroke="#b81c14" stroke-width="1.0">G1</text>
<text transform="translate(1390,57.5) scale(1.18,1)" text-anchor="start" font-family='"Liberation Sans", sans-serif' font-size="21" font-weight="bold" fill="#b81c14" stroke="#b81c14" stroke-width="1.0">R1</text>
<text transform="translate(1217,88) scale(1.18,1)" text-anchor="start" font-family='"Liberation Sans", sans-serif' font-size="21" font-weight="bold" fill="#b81c14" stroke="#b81c14" stroke-width="1.0">GND</text>
<text transform="translate(1390,90.5) scale(1.18,1)" text-anchor="start" font-family='"Liberation Sans", sans-serif' font-size="21" font-weight="bold" fill="#b81c14" stroke="#b81c14" stroke-width="1.0">B1</text>
<text transform="translate(1217,121) scale(1.18,1)" text-anchor="start" font-family='"Liberation Sans", sans-serif' font-size="21" font-weight="bold" fill="#b81c14" stroke="#b81c14" stroke-width="1.0">G2</text>
<text transform="translate(1390,123.5) scale(1.18,1)" text-anchor="start" font-family='"Liberation Sans", sans-serif' font-size="21" font-weight="bold" fill="#b81c14" stroke="#b81c14" stroke-width="1.0">R2</text>
<text transform="translate(1217,154) scale(1.18,1)" text-anchor="start" font-family='"Liberation Sans", sans-serif' font-size="21" font-weight="bold" fill="#b81c14" stroke="#b81c14" stroke-width="1.0">GND</text>
<text transform="translate(1390,156.5) scale(1.18,1)" text-anchor="start" font-family='"Liberation Sans", sans-serif' font-size="21" font-weight="bold" fill="#b81c14" stroke="#b81c14" stroke-width="1.0">B2</text>
<text transform="translate(1217,187) scale(1.18,1)" text-anchor="start" font-family='"Liberation Sans", sans-serif' font-size="21" font-weight="bold" fill="#b81c14" stroke="#b81c14" stroke-width="1.0">B</text>
<text transform="translate(1390,189.5) scale(1.18,1)" text-anchor="start" font-family='"Liberation Sans", sans-serif' font-size="21" font-weight="bold" fill="#b81c14" stroke="#b81c14" stroke-width="1.0">A</text>
<text transform="translate(1217,220) scale(1.18,1)" text-anchor="start" font-family='"Liberation Sans", sans-serif' font-size="21" font-weight="bold" fill="#b81c14" stroke="#b81c14" stroke-width="1.0">D</text>
<text transform="translate(1390,222.5) scale(1.18,1)" text-anchor="start" font-family='"Liberation Sans", sans-serif' font-size="21" font-weight="bold" fill="#b81c14" stroke="#b81c14" stroke-width="1.0">C</text>
<text transform="translate(1217,253) scale(1.18,1)" text-anchor="start" font-family='"Liberation Sans", sans-serif' font-size="21" font-weight="bold" fill="#b81c14" stroke="#b81c14" stroke-width="1.0">LAT</text>
<text transform="translate(1390,255.5) scale(1.18,1)" text-anchor="start" font-family='"Liberation Sans", sans-serif' font-size="21" font-weight="bold" fill="#b81c14" stroke="#b81c14" stroke-width="1.0">CLK</text>
<text transform="translate(1217,286) scale(1.18,1)" text-anchor="start" font-family='"Liberation Sans", sans-serif' font-size="21" font-weight="bold" fill="#b81c14" stroke="#b81c14" stroke-width="1.0">GND</text>
<text transform="translate(1390,288.5) scale(1.18,1)" text-anchor="start" font-family='"Liberation Sans", sans-serif' font-size="21" font-weight="bold" fill="#b81c14" stroke="#b81c14" stroke-width="1.0">OE</text>
<rect x="1377" y="334" width="116" height="293" fill="#1c1c1c"/>
<path d="M1391 341 H1479 V621 H1391 V508 H1400 V454 H1391 Z" fill="#6a6a6a"/>
<rect x="1400" y="351" width="69" height="262" fill="#000"/>
<rect x="1391" y="454" width="9" height="54" fill="#000"/>
<path d="M1391 357 A9 9 0 0 0 1391 375 Z" fill="#c8c8c8"/>
<path d="M1479 357 A9 9 0 0 1 1479 375 Z" fill="#c8c8c8"/>
<rect x="1412" y="360" width="12" height="12" fill="#a09a80"/>
<rect x="1447" y="360" width="12" height="12" fill="#a09a80"/>
<text transform="translate(1312,373) scale(1.18,1)" text-anchor="start" font-family='"Liberation Sans", sans-serif' font-size="21" font-weight="bold" fill="#b81c14" stroke="#b81c14" stroke-width="1.0">R1</text>
<text transform="translate(1509,377) scale(1.18,1)" text-anchor="start" font-family='"Liberation Sans", sans-serif' font-size="21" font-weight="bold" fill="#b81c14" stroke="#b81c14" stroke-width="1.0">G1</text>
<path d="M1391 390 A9 9 0 0 0 1391 408 Z" fill="#c8c8c8"/>
<path d="M1479 390 A9 9 0 0 1 1479 408 Z" fill="#c8c8c8"/>
<rect x="1412" y="393" width="12" height="12" fill="#a09a80"/>
<rect x="1447" y="393" width="12" height="12" fill="#a09a80"/>
<text transform="translate(1312,406) scale(1.18,1)" text-anchor="start" font-family='"Liberation Sans", sans-serif' font-size="21" font-weight="bold" fill="#b81c14" stroke="#b81c14" stroke-width="1.0">B1</text>
<text transform="translate(1509,410) scale(1.18,1)" text-anchor="start" font-family='"Liberation Sans", sans-serif' font-size="21" font-weight="bold" fill="#b81c14" stroke="#b81c14" stroke-width="1.0">GND</text>
<path d="M1391 423 A9 9 0 0 0 1391 441 Z" fill="#c8c8c8"/>
<path d="M1479 423 A9 9 0 0 1 1479 441 Z" fill="#c8c8c8"/>
<rect x="1412" y="426" width="12" height="12" fill="#a09a80"/>
<rect x="1447" y="426" width="12" height="12" fill="#a09a80"/>
<text transform="translate(1312,439) scale(1.18,1)" text-anchor="start" font-family='"Liberation Sans", sans-serif' font-size="21" font-weight="bold" fill="#b81c14" stroke="#b81c14" stroke-width="1.0">R2</text>
<text transform="translate(1509,443) scale(1.18,1)" text-anchor="start" font-family='"Liberation Sans", sans-serif' font-size="21" font-weight="bold" fill="#b81c14" stroke="#b81c14" stroke-width="1.0">G2</text>
<path d="M1391 456 A9 9 0 0 0 1391 474 Z" fill="#c8c8c8"/>
<path d="M1479 456 A9 9 0 0 1 1479 474 Z" fill="#c8c8c8"/>
<rect x="1412" y="459" width="12" height="12" fill="#a09a80"/>
<rect x="1447" y="459" width="12" height="12" fill="#a09a80"/>
<text transform="translate(1312,472) scale(1.18,1)" text-anchor="start" font-family='"Liberation Sans", sans-serif' font-size="21" font-weight="bold" fill="#b81c14" stroke="#b81c14" stroke-width="1.0">B2</text>
<text transform="translate(1509,476) scale(1.18,1)" text-anchor="start" font-family='"Liberation Sans", sans-serif' font-size="21" font-weight="bold" fill="#b81c14" stroke="#b81c14" stroke-width="1.0">GND</text>
<path d="M1391 489 A9 9 0 0 0 1391 507 Z" fill="#c8c8c8"/>
<path d="M1479 489 A9 9 0 0 1 1479 507 Z" fill="#c8c8c8"/>
<rect x="1412" y="492" width="12" height="12" fill="#a09a80"/>
<rect x="1447" y="492" width="12" height="12" fill="#a09a80"/>
<text transform="translate(1312,505) scale(1.18,1)" text-anchor="start" font-family='"Liberation Sans", sans-serif' font-size="21" font-weight="bold" fill="#b81c14" stroke="#b81c14" stroke-width="1.0">A</text>
<text transform="translate(1509,509) scale(1.18,1)" text-anchor="start" font-family='"Liberation Sans", sans-serif' font-size="21" font-weight="bold" fill="#b81c14" stroke="#b81c14" stroke-width="1.0">B</text>
<path d="M1391 522 A9 9 0 0 0 1391 540 Z" fill="#c8c8c8"/>
<path d="M1479 522 A9 9 0 0 1 1479 540 Z" fill="#c8c8c8"/>
<rect x="1412" y="525" width="12" height="12" fill="#a09a80"/>
<rect x="1447" y="525" width="12" height="12" fill="#a09a80"/>
<text transform="translate(1312,538) scale(1.18,1)" text-anchor="start" font-family='"Liberation Sans", sans-serif' font-size="21" font-weight="bold" fill="#b81c14" stroke="#b81c14" stroke-width="1.0">C</text>
<text transform="translate(1509,542) scale(1.18,1)" text-anchor="start" font-family='"Liberation Sans", sans-serif' font-size="21" font-weight="bold" fill="#b81c14" stroke="#b81c14" stroke-width="1.0">D</text>
<path d="M1391 555 A9 9 0 0 0 1391 573 Z" fill="#c8c8c8"/>
<path d="M1479 555 A9 9 0 0 1 1479 573 Z" fill="#c8c8c8"/>
<rect x="1412" y="558" width="12" height="12" fill="#a09a80"/>
<rect x="1447" y="558" width="12" height="12" fill="#a09a80"/>
<text transform="translate(1312,571) scale(1.18,1)" text-anchor="start" font-family='"Liberation Sans", sans-serif' font-size="21" font-weight="bold" fill="#b81c14" stroke="#b81c14" stroke-width="1.0">CLK</text>
<text transform="translate(1509,575) scale(1.18,1)" text-anchor="start" font-family='"Liberation Sans", sans-serif' font-size="21" font-weight="bold" fill="#b81c14" stroke="#b81c14" stroke-width="1.0">LAT</text>
<path d="M1391 588 A9 9 0 0 0 1391 606 Z" fill="#c8c8c8"/>
<path d="M1479 588 A9 9 0 0 1 1479 606 Z" fill="#c8c8c8"/>
<rect x="1412" y="591" width="12" height="12" fill="#a09a80"/>
<rect x="1447" y="591" width="12" height="12" fill="#a09a80"/>
<text transform="translate(1312,604) scale(1.18,1)" text-anchor="start" font-family='"Liberation Sans", sans-serif' font-size="21" font-weight="bold" fill="#b81c14" stroke="#b81c14" stroke-width="1.0">OE</text>
<text transform="translate(1509,608) scale(1.18,1)" text-anchor="start" font-family='"Liberation Sans", sans-serif' font-size="21" font-weight="bold" fill="#b81c14" stroke="#b81c14" stroke-width="1.0">GND</text>
<text transform="translate(1436,656) scale(1.16,1)" text-anchor="middle" font-family='"Liberation Sans", sans-serif' font-size="33.5" font-weight="bold" fill="#c41e10" stroke="#c41e10" stroke-width="1.5">DATA-IN</text>
<rect x="1377" y="696" width="116" height="293" fill="#1c1c1c"/>
<path d="M1391 703 H1479 V983 H1391 V870 H1400 V816 H1391 Z" fill="#6a6a6a"/>
<rect x="1400" y="713" width="69" height="262" fill="#000"/>
<rect x="1391" y="816" width="9" height="54" fill="#000"/>
<path d="M1391 719 A9 9 0 0 0 1391 737 Z" fill="#c8c8c8"/>
<path d="M1479 719 A9 9 0 0 1 1479 737 Z" fill="#c8c8c8"/>
<rect x="1412" y="722" width="12" height="12" fill="#a09a80"/>
<rect x="1447" y="722" width="12" height="12" fill="#a09a80"/>
<text transform="translate(1312,735) scale(1.18,1)" text-anchor="start" font-family='"Liberation Sans", sans-serif' font-size="21" font-weight="bold" fill="#b81c14" stroke="#b81c14" stroke-width="1.0">R1</text>
<text transform="translate(1509,739) scale(1.18,1)" text-anchor="start" font-family='"Liberation Sans", sans-serif' font-size="21" font-weight="bold" fill="#b81c14" stroke="#b81c14" stroke-width="1.0">G1</text>
<path d="M1391 752 A9 9 0 0 0 1391 770 Z" fill="#c8c8c8"/>
<path d="M1479 752 A9 9 0 0 1 1479 770 Z" fill="#c8c8c8"/>
<rect x="1412" y="755" width="12" height="12" fill="#a09a80"/>
<rect x="1447" y="755" width="12" height="12" fill="#a09a80"/>
<text transform="translate(1312,768) scale(1.18,1)" text-anchor="start" font-family='"Liberation Sans", sans-serif' font-size="21" font-weight="bold" fill="#b81c14" stroke="#b81c14" stroke-width="1.0">B1</text>
<text transform="translate(1509,772) scale(1.18,1)" text-anchor="start" font-family='"Liberation Sans", sans-serif' font-size="21" font-weight="bold" fill="#b81c14" stroke="#b81c14" stroke-width="1.0">GND</text>
<path d="M1391 785 A9 9 0 0 0 1391 803 Z" fill="#c8c8c8"/>
<path d="M1479 785 A9 9 0 0 1 1479 803 Z" fill="#c8c8c8"/>
<rect x="1412" y="788" width="12" height="12" fill="#a09a80"/>
<rect x="1447" y="788" width="12" height="12" fill="#a09a80"/>
<text transform="translate(1312,801) scale(1.18,1)" text-anchor="start" font-family='"Liberation Sans", sans-serif' font-size="21" font-weight="bold" fill="#b81c14" stroke="#b81c14" stroke-width="1.0">R2</text>
<text transform="translate(1509,805) scale(1.18,1)" text-anchor="start" font-family='"Liberation Sans", sans-serif' font-size="21" font-weight="bold" fill="#b81c14" stroke="#b81c14" stroke-width="1.0">G2</text>
<path d="M1391 818 A9 9 0 0 0 1391 836 Z" fill="#c8c8c8"/>
<path d="M1479 818 A9 9 0 0 1 1479 836 Z" fill="#c8c8c8"/>
<rect x="1412" y="821" width="12" height="12" fill="#a09a80"/>
<rect x="1447" y="821" width="12" height="12" fill="#a09a80"/>
<text transform="translate(1312,834) scale(1.18,1)" text-anchor="start" font-family='"Liberation Sans", sans-serif' font-size="21" font-weight="bold" fill="#b81c14" stroke="#b81c14" stroke-width="1.0">B2</text>
<text transform="translate(1509,838) scale(1.18,1)" text-anchor="start" font-family='"Liberation Sans", sans-serif' font-size="21" font-weight="bold" fill="#b81c14" stroke="#b81c14" stroke-width="1.0">GND</text>
<path d="M1391 851 A9 9 0 0 0 1391 869 Z" fill="#c8c8c8"/>
<path d="M1479 851 A9 9 0 0 1 1479 869 Z" fill="#c8c8c8"/>
<rect x="1412" y="854" width="12" height="12" fill="#a09a80"/>
<rect x="1447" y="854" width="12" height="12" fill="#a09a80"/>
<text transform="translate(1312,867) scale(1.18,1)" text-anchor="start" font-family='"Liberation Sans", sans-serif' font-size="21" font-weight="bold" fill="#b81c14" stroke="#b81c14" stroke-width="1.0">A</text>
<text transform="translate(1509,871) scale(1.18,1)" text-anchor="start" font-family='"Liberation Sans", sans-serif' font-size="21" font-weight="bold" fill="#b81c14" stroke="#b81c14" stroke-width="1.0">B</text>
<path d="M1391 884 A9 9 0 0 0 1391 902 Z" fill="#c8c8c8"/>
<path d="M1479 884 A9 9 0 0 1 1479 902 Z" fill="#c8c8c8"/>
<rect x="1412" y="887" width="12" height="12" fill="#a09a80"/>
<rect x="1447" y="887" width="12" height="12" fill="#a09a80"/>
<text transform="translate(1312,900) scale(1.18,1)" text-anchor="start" font-family='"Liberation Sans", sans-serif' font-size="21" font-weight="bold" fill="#b81c14" stroke="#b81c14" stroke-width="1.0">C</text>
<text transform="translate(1509,904) scale(1.18,1)" text-anchor="start" font-family='"Liberation Sans", sans-serif' font-size="21" font-weight="bold" fill="#b81c14" stroke="#b81c14" stroke-width="1.0">D</text>
<path d="M1391 917 A9 9 0 0 0 1391 935 Z" fill="#c8c8c8"/>
<path d="M1479 917 A9 9 0 0 1 1479 935 Z" fill="#c8c8c8"/>
<rect x="1412" y="920" width="12" height="12" fill="#a09a80"/>
<rect x="1447" y="920" width="12" height="12" fill="#a09a80"/>
<text transform="translate(1312,933) scale(1.18,1)" text-anchor="start" font-family='"Liberation Sans", sans-serif' font-size="21" font-weight="bold" fill="#b81c14" stroke="#b81c14" stroke-width="1.0">CLK</text>
<text transform="translate(1509,937) scale(1.18,1)" text-anchor="start" font-family='"Liberation Sans", sans-serif' font-size="21" font-weight="bold" fill="#b81c14" stroke="#b81c14" stroke-width="1.0">LAT</text>
<path d="M1391 950 A9 9 0 0 0 1391 968 Z" fill="#c8c8c8"/>
<path d="M1479 950 A9 9 0 0 1 1479 968 Z" fill="#c8c8c8"/>
<rect x="1412" y="953" width="12" height="12" fill="#a09a80"/>
<rect x="1447" y="953" width="12" height="12" fill="#a09a80"/>
<text transform="translate(1312,966) scale(1.18,1)" text-anchor="start" font-family='"Liberation Sans", sans-serif' font-size="21" font-weight="bold" fill="#b81c14" stroke="#b81c14" stroke-width="1.0">OE</text>
<text transform="translate(1509,970) scale(1.18,1)" text-anchor="start" font-family='"Liberation Sans", sans-serif' font-size="21" font-weight="bold" fill="#b81c14" stroke="#b81c14" stroke-width="1.0">GND</text>
<text transform="translate(1436,1035) scale(1.1,1)" text-anchor="middle" font-family='"Liberation Sans", sans-serif' font-size="33.5" font-weight="bold" fill="#c41e10" stroke="#c41e10" stroke-width="1.5">DATA-OUT</text>
<path d="M258 335 L256.5 358" fill="none" stroke="#f0f000" stroke-width="9" stroke-linejoin="miter" stroke-linecap="butt"/>
<path d="M286 335 L284.5 358" fill="none" stroke="#0a20e6" stroke-width="9" stroke-linejoin="miter" stroke-linecap="butt"/>
<path d="M315 335 L313.5 358" fill="none" stroke="#24dc1e" stroke-width="9" stroke-linejoin="miter" stroke-linecap="butt"/>
<path d="M344 335 L342.5 358" fill="none" stroke="#d8220e" stroke-width="9" stroke-linejoin="miter" stroke-linecap="butt"/>
<path d="M371 335 L369.5 358" fill="none" stroke="#000" stroke-width="9" stroke-linejoin="miter" stroke-linecap="butt"/>
<path d="M286 334 L286 407 L671 407 L671 505" fill="none" stroke="#0a20e6" stroke-width="6" stroke-linejoin="miter" stroke-linecap="butt"/>
<path d="M315 334 L315 474 L654 474 L654 505" fill="none" stroke="#24dc1e" stroke-width="6" stroke-linejoin="miter" stroke-linecap="butt"/>
<path d="M344 334 L344 447.5 L725 447.5 L725 505" fill="none" stroke="#d8220e" stroke-width="6" stroke-linejoin="miter" stroke-linecap="butt"/>
<path d="M371 334 L371 428 L258 428 L258 505" fill="none" stroke="#000" stroke-width="5" stroke-linejoin="miter" stroke-linecap="butt"/>
<path d="M834 341 L427 341 L427 505" fill="none" stroke="#f6b800" stroke-width="6" stroke-linejoin="miter" stroke-linecap="butt"/>
<path d="M834 369 L774 369 L774 360 L446 360 L446 505" fill="none" stroke="#0a20e6" stroke-width="6" stroke-linejoin="miter" stroke-linecap="butt"/>
<path d="M834 396 L763 396 L763 381 L464 381 L464 505" fill="none" stroke="#24dc1e" stroke-width="6" stroke-linejoin="miter" stroke-linecap="butt"/>
<path d="M722 541 L722 534.5 L836 534.5 L836 511 L1026 511" fill="none" stroke="#d8220e" stroke-width="6" stroke-linejoin="miter" stroke-linecap="butt"/>
<path d="M740 543 L860 543 L860 532 L1076 532 L1076 509" fill="none" stroke="#24dc1e" stroke-width="6" stroke-linejoin="miter" stroke-linecap="butt"/>
<path d="M722 562 L722 553 L1025 553 L1025 563" fill="none" stroke="#0a20e6" stroke-width="6" stroke-linejoin="miter" stroke-linecap="butt"/>
<path d="M740 561 L837 561 L837 589 L1025 589 L1025 613" fill="none" stroke="#d8220e" stroke-width="6" stroke-linejoin="miter" stroke-linecap="butt"/>
<path d="M722 580 L722 572 L818 572 L818 631 L1076 631 L1076 609" fill="none" stroke="#24dc1e" stroke-width="6" stroke-linejoin="miter" stroke-linecap="butt"/>
<path d="M740 579 L800 579 L800 661.5 L1026 661.5" fill="none" stroke="#0a20e6" stroke-width="6" stroke-linejoin="miter" stroke-linecap="butt"/>
<path d="M740 812 L740 827 L1113 827 L1113 560 L1076 560" fill="none" stroke="#f4ec20" stroke-width="7" stroke-linejoin="miter" stroke-linecap="butt"/>
<path d="M740 812 L740 827 L1113 827 L1113 560 L1076 560" fill="none" stroke="#111" stroke-width="2.2" stroke-linejoin="miter" stroke-linecap="butt"/>
<path d="M1113 660 L1076 660" fill="none" stroke="#f4ec20" stroke-width="7" stroke-linejoin="miter" stroke-linecap="butt"/>
<path d="M1113 660 L1076 660" fill="none" stroke="#111" stroke-width="2.2" stroke-linejoin="miter" stroke-linecap="butt"/>
<path d="M723 812 L723 839 L1077 839 L1077 859" fill="none" stroke="#f4ec20" stroke-width="7" stroke-linejoin="miter" stroke-linecap="butt"/>
<path d="M723 812 L723 839 L1077 839 L1077 859" fill="none" stroke="#111" stroke-width="2.2" stroke-linejoin="miter" stroke-linecap="butt"/>
<rect x="745" y="811" width="27" height="14" fill="#111"/>
<text x="746" y="823" font-family='"Liberation Sans", sans-serif' font-size="12" fill="#e8e8e8">GND</text>
<path d="M430 848 L430 709 L1026 709" fill="none" stroke="#8424f0" stroke-width="6" stroke-linejoin="miter" stroke-linecap="butt"/>
<path d="M447 848 L447 731 L1076 731 L1076 704" fill="none" stroke="#f2c800" stroke-width="6" stroke-linejoin="miter" stroke-linecap="butt"/>
<path d="M464 848 L464 760 L1026 760" fill="none" stroke="#e6a050" stroke-width="6" stroke-linejoin="miter" stroke-linecap="butt"/>
<path d="M482 848 L482 783 L1076 783 L1076 758" fill="none" stroke="#dc8c84" stroke-width="6" stroke-linejoin="miter" stroke-linecap="butt"/>
<path d="M309 506 L309 486 L378 486 L378 808.5 L1026 808.5" fill="none" stroke="#cc7c10" stroke-width="6" stroke-linejoin="miter" stroke-linecap="butt"/>
<path d="M326 506 L325 876 L1093 876 L1093 811 L1074 811" fill="none" stroke="#6890da" stroke-width="6" stroke-linejoin="miter" stroke-linecap="butt"/>
<path d="M343 506 L341 859 L1026 859" fill="none" stroke="#f4f050" stroke-width="6" stroke-linejoin="miter" stroke-linecap="butt"/>
<path d="M781 397 L781 270 L970 270" fill="none" stroke="#bdbdbd" stroke-width="3" stroke-linejoin="miter" stroke-linecap="butt"/>
<path d="M802 368 L802 286 L970 286" fill="none" stroke="#bdbdbd" stroke-width="3" stroke-linejoin="miter" stroke-linecap="butt"/>
<path d="M822 338 L822 304 L970 304" fill="none" stroke="#bdbdbd" stroke-width="3" stroke-linejoin="miter" stroke-linecap="butt"/>
<path d="M932 338 L932 429" fill="none" stroke="#bdbdbd" stroke-width="3" stroke-linejoin="miter" stroke-linecap="butt"/>
<path d="M786 271 L786 398" fill="none" stroke="#22e01c" stroke-width="9" stroke-linejoin="miter" stroke-linecap="butt"/>
<path d="M790 274 L873 274" fill="none" stroke="#8a1ee6" stroke-width="4" stroke-linejoin="miter" stroke-linecap="butt"/>
<path d="M901 274 L972 274" fill="none" stroke="#8a1ee6" stroke-width="4" stroke-linejoin="miter" stroke-linecap="butt"/>
<path d="M805 290 L805 369" fill="none" stroke="#6a9cd8" stroke-width="5" stroke-linejoin="miter" stroke-linecap="butt"/>
<path d="M805 289.5 L869 289.5" fill="none" stroke="#6a9cd8" stroke-width="5" stroke-linejoin="miter" stroke-linecap="butt"/>
<path d="M897 289.5 L972 289.5" fill="none" stroke="#6a9cd8" stroke-width="5" stroke-linejoin="miter" stroke-linecap="butt"/>
<path d="M825 308 L825 341" fill="none" stroke="#f2c500" stroke-width="5" stroke-linejoin="miter" stroke-linecap="butt"/>
<path d="M825 307 L869 307" fill="none" stroke="#f2c500" stroke-width="5" stroke-linejoin="miter" stroke-linecap="butt"/>
<path d="M898 307 L972 307" fill="none" stroke="#f2c500" stroke-width="5" stroke-linejoin="miter" stroke-linecap="butt"/>
<line x1="872" y1="276" x2="899" y2="266" stroke="#000" stroke-width="4"/>
<line x1="868" y1="292" x2="897" y2="282" stroke="#000" stroke-width="4"/>
<line x1="868" y1="310" x2="897" y2="300" stroke="#000" stroke-width="4"/>
<rect x="972" y="272" width="8" height="37" fill="#ee1010"/>
<rect x="972" y="301" width="35" height="8" fill="#ee1010"/>
<rect x="1000" y="301" width="7" height="61" fill="#ee1010"/>
<text x="989" y="395" font-family='"Liberation Sans", sans-serif' font-size="32" font-weight="bold" fill="#ee1010" textLength="34" lengthAdjust="spacingAndGlyphs">5v</text>
<path d="M880 341 L935 341" fill="none" stroke="#f2c500" stroke-width="5" stroke-linejoin="miter" stroke-linecap="butt"/>
<path d="M884 370 L935 370" fill="none" stroke="#6a9cd8" stroke-width="5" stroke-linejoin="miter" stroke-linecap="butt"/>
<path d="M887 396 L935 396" fill="none" stroke="#8a1ee6" stroke-width="5" stroke-linejoin="miter" stroke-linecap="butt"/>
<rect x="934" y="339" width="8" height="91" fill="#000"/>
<text transform="translate(918,447) scale(1.18,1)" text-anchor="start" font-family='"Liberation Sans", sans-serif' font-size="17" font-weight="bold" fill="#000" stroke="#000" stroke-width="0.3">GND</text>
<rect x="833" y="338.5" width="56" height="5" fill="#e02010"/>
<ellipse cx="861" cy="341" rx="21" ry="6.7" fill="#f0f0f0" stroke="#222" stroke-width="1"/>
<text x="861" y="346" text-anchor="middle" font-family='"Liberation Sans", sans-serif' font-size="13" font-weight="bold" fill="#e02010">R1</text>
<rect x="832.0" y="367.0" width="61.0" height="5" fill="#e02010"/>
<ellipse cx="862.5" cy="369.5" rx="23.5" ry="6.3" fill="#f0f0f0" stroke="#222" stroke-width="1"/>
<text x="862.5" y="374.5" text-anchor="middle" font-family='"Liberation Sans", sans-serif' font-size="13" font-weight="bold" fill="#e02010">R2</text>
<rect x="832" y="393.0" width="64" height="5" fill="#e02010"/>
<ellipse cx="864" cy="395.5" rx="25" ry="4.7" fill="#f0f0f0" stroke="#222" stroke-width="1"/>
<text x="864" y="400.5" text-anchor="middle" font-family='"Liberation Sans", sans-serif' font-size="13" font-weight="bold" fill="#e02010">R3</text>
<text y="987" font-family='"Liberation Sans", sans-serif' font-size="98"><tspan x="48" fill="#d42010">G</tspan><tspan x="97.7" fill="#111111">r</tspan><tspan x="122.7" fill="#b01a10">e</tspan><tspan x="162.9" fill="#e0a050">a</tspan><tspan x="203.8" fill="#f2ee40">t</tspan><tspan x="242.2" fill="#88d040">P</tspan><tspan x="287.1" fill="#5aabd0">r</tspan><tspan x="312.3" fill="#204a90">o</tspan><tspan x="351.9" fill="#8a70b0">j</tspan><tspan x="372.6" fill="#d82010">e</tspan><tspan x="412.4" fill="#f0d020">c</tspan><tspan x="449" fill="#30e020">t</tspan><tspan x="468.4" fill="#9020f0">s</tspan></text>
<text x="92.5" y="765.5" font-family='"Liberation Sans", sans-serif' font-size="35.5" letter-spacing="-3.3"><tspan fill="#d42010">G</tspan><tspan fill="#ffffff">r</tspan><tspan fill="#b01a10">e</tspan><tspan fill="#e0a050">a</tspan><tspan fill="#f2ee40">t</tspan> <tspan fill="#88d040">P</tspan><tspan fill="#5aabd0">r</tspan><tspan fill="#204a90">o</tspan><tspan fill="#8a70b0">j</tspan><tspan fill="#d82010">e</tspan><tspan fill="#f0d020">c</tspan><tspan fill="#30e020">t</tspan><tspan fill="#9020f0">s</tspan></text>
<text x="456.8" y="660" font-family='"Liberation Sans", sans-serif' font-size="35.5" letter-spacing="-3.3"><tspan fill="#d42010">G</tspan><tspan fill="#ffffff">r</tspan><tspan fill="#b01a10">e</tspan><tspan fill="#e0a050">a</tspan><tspan fill="#f2ee40">t</tspan> <tspan fill="#88d040">P</tspan><tspan fill="#5aabd0">r</tspan><tspan fill="#204a90">o</tspan><tspan fill="#8a70b0">j</tspan><tspan fill="#d82010">e</tspan><tspan fill="#f0d020">c</tspan><tspan fill="#30e020">t</tspan><tspan fill="#9020f0">s</tspan></text>
<defs><filter id="gl" x="-5%" y="-5%" width="110%" height="110%"><feGaussianBlur stdDeviation="1.3"/></filter></defs>
<g filter="url(#gl)" opacity="0.9"><circle cx="551.0" cy="20.3" r="5.0" fill="#b030c8"/><circle cx="560.8" cy="20.3" r="5.0" fill="#b030c8"/><circle cx="570.5" cy="20.3" r="5.0" fill="#b030c8"/><circle cx="581.0" cy="20.3" r="5.0" fill="#b030c8"/><circle cx="538.5" cy="29.4" r="5.0" fill="#b030c8"/><circle cx="551.0" cy="29.4" r="5.0" fill="#b030c8"/><circle cx="560.8" cy="29.4" r="5.0" fill="#b030c8"/><circle cx="570.5" cy="29.4" r="5.0" fill="#b030c8"/><circle cx="581.0" cy="29.4" r="5.0" fill="#b030c8"/><circle cx="591.4" cy="29.4" r="5.0" fill="#b030c8"/><circle cx="532.2" cy="37.7" r="5.0" fill="#b030c8"/><circle cx="542.0" cy="37.7" r="5.0" fill="#b030c8"/><circle cx="581.7" cy="37.7" r="5.0" fill="#b030c8"/><circle cx="591.4" cy="37.7" r="5.0" fill="#b030c8"/><circle cx="521.8" cy="45.4" r="5.0" fill="#b030c8"/><circle cx="532.2" cy="45.4" r="5.0" fill="#b030c8"/><circle cx="582.4" cy="45.4" r="5.0" fill="#b030c8"/><circle cx="592.1" cy="45.4" r="5.0" fill="#b030c8"/><circle cx="523.2" cy="53.7" r="5.0" fill="#b030c8"/><circle cx="532.9" cy="53.7" r="5.0" fill="#b030c8"/><circle cx="583.1" cy="53.7" r="5.0" fill="#b030c8"/><circle cx="592.8" cy="53.7" r="5.0" fill="#b030c8"/><circle cx="523.9" cy="61.4" r="5.0" fill="#b030c8"/><circle cx="534.3" cy="61.4" r="5.0" fill="#b030c8"/><circle cx="583.1" cy="61.4" r="5.0" fill="#b030c8"/><circle cx="593.5" cy="61.4" r="5.0" fill="#b030c8"/><circle cx="524.6" cy="69.8" r="5.0" fill="#b030c8"/><circle cx="583.8" cy="69.8" r="5.0" fill="#b030c8"/><circle cx="515.5" cy="77.4" r="5.0" fill="#b030c8"/><circle cx="524.6" cy="77.4" r="5.0" fill="#b030c8"/><circle cx="574.7" cy="77.4" r="5.0" fill="#b030c8"/><circle cx="584.5" cy="77.4" r="5.0" fill="#b030c8"/><circle cx="516.2" cy="85.8" r="5.0" fill="#b030c8"/><circle cx="526.0" cy="85.8" r="5.0" fill="#b030c8"/><circle cx="574.7" cy="85.8" r="5.0" fill="#b030c8"/><circle cx="585.2" cy="85.8" r="5.0" fill="#b030c8"/><circle cx="516.9" cy="94.1" r="5.0" fill="#b030c8"/><circle cx="526.7" cy="94.1" r="5.0" fill="#b030c8"/><circle cx="565.7" cy="94.1" r="5.0" fill="#b030c8"/><circle cx="575.4" cy="94.1" r="5.0" fill="#b030c8"/><circle cx="516.9" cy="101.8" r="5.0" fill="#b030c8"/><circle cx="527.4" cy="101.8" r="5.0" fill="#b030c8"/><circle cx="537.1" cy="101.8" r="5.0" fill="#b030c8"/><circle cx="546.9" cy="101.8" r="5.0" fill="#b030c8"/><circle cx="556.6" cy="101.8" r="5.0" fill="#b030c8"/><circle cx="566.4" cy="101.8" r="5.0" fill="#b030c8"/><circle cx="576.1" cy="101.8" r="5.0" fill="#b030c8"/><circle cx="528.1" cy="109.5" r="5.0" fill="#b030c8"/><circle cx="537.8" cy="109.5" r="5.0" fill="#b030c8"/><circle cx="547.5" cy="109.5" r="5.0" fill="#b030c8"/><circle cx="557.3" cy="109.5" r="5.0" fill="#b030c8"/><circle cx="660.4" cy="20.3" r="5.0" fill="#b030c8"/><circle cx="670.1" cy="20.3" r="5.0" fill="#b030c8"/><circle cx="679.9" cy="20.3" r="5.0" fill="#b030c8"/><circle cx="690.3" cy="20.3" r="5.0" fill="#b030c8"/><circle cx="650.6" cy="28.7" r="5.0" fill="#b030c8"/><circle cx="660.4" cy="28.7" r="5.0" fill="#b030c8"/><circle cx="670.1" cy="28.7" r="5.0" fill="#b030c8"/><circle cx="679.9" cy="28.7" r="5.0" fill="#b030c8"/><circle cx="690.3" cy="28.7" r="5.0" fill="#b030c8"/><circle cx="631.8" cy="37.0" r="5.0" fill="#b030c8"/><circle cx="641.6" cy="37.0" r="5.0" fill="#b030c8"/><circle cx="651.3" cy="37.0" r="5.0" fill="#b030c8"/><circle cx="631.8" cy="45.4" r="5.0" fill="#b030c8"/><circle cx="641.6" cy="45.4" r="5.0" fill="#b030c8"/><circle cx="622.1" cy="53.7" r="5.0" fill="#b030c8"/><circle cx="631.8" cy="53.7" r="5.0" fill="#b030c8"/><circle cx="622.1" cy="61.4" r="5.0" fill="#b030c8"/><circle cx="631.8" cy="61.4" r="5.0" fill="#b030c8"/><circle cx="641.6" cy="61.4" r="5.0" fill="#b030c8"/><circle cx="652.0" cy="61.4" r="5.0" fill="#b030c8"/><circle cx="661.8" cy="61.4" r="5.0" fill="#b030c8"/><circle cx="671.5" cy="61.4" r="5.0" fill="#b030c8"/><circle cx="613.7" cy="69.1" r="5.0" fill="#b030c8"/><circle cx="622.8" cy="69.1" r="5.0" fill="#b030c8"/><circle cx="632.5" cy="69.1" r="5.0" fill="#b030c8"/><circle cx="642.3" cy="69.1" r="5.0" fill="#b030c8"/><circle cx="652.0" cy="69.1" r="5.0" fill="#b030c8"/><circle cx="661.8" cy="69.1" r="5.0" fill="#b030c8"/><circle cx="671.5" cy="69.1" r="5.0" fill="#b030c8"/><circle cx="681.3" cy="69.1" r="5.0" fill="#b030c8"/><circle cx="613.7" cy="77.4" r="5.0" fill="#b030c8"/><circle cx="623.5" cy="77.4" r="5.0" fill="#b030c8"/><circle cx="633.2" cy="77.4" r="5.0" fill="#b030c8"/><circle cx="672.2" cy="77.4" r="5.0" fill="#b030c8"/><circle cx="681.9" cy="77.4" r="5.0" fill="#b030c8"/><circle cx="613.7" cy="85.1" r="5.0" fill="#b030c8"/><circle cx="623.5" cy="85.1" r="5.0" fill="#b030c8"/><circle cx="672.2" cy="85.1" r="5.0" fill="#b030c8"/><circle cx="681.9" cy="85.1" r="5.0" fill="#b030c8"/><circle cx="614.4" cy="92.7" r="5.0" fill="#b030c8"/><circle cx="624.2" cy="92.7" r="5.0" fill="#b030c8"/><circle cx="662.5" cy="92.7" r="5.0" fill="#b030c8"/><circle cx="672.2" cy="92.7" r="5.0" fill="#b030c8"/><circle cx="681.9" cy="92.7" r="5.0" fill="#b030c8"/><circle cx="614.4" cy="101.1" r="5.0" fill="#b030c8"/><circle cx="624.8" cy="101.1" r="5.0" fill="#b030c8"/><circle cx="634.6" cy="101.1" r="5.0" fill="#b030c8"/><circle cx="644.3" cy="101.1" r="5.0" fill="#b030c8"/><circle cx="654.1" cy="101.1" r="5.0" fill="#b030c8"/><circle cx="663.8" cy="101.1" r="5.0" fill="#b030c8"/><circle cx="672.9" cy="101.1" r="5.0" fill="#b030c8"/><circle cx="624.8" cy="108.8" r="5.0" fill="#b030c8"/><circle cx="634.6" cy="108.8" r="5.0" fill="#b030c8"/><circle cx="644.3" cy="108.8" r="5.0" fill="#b030c8"/><circle cx="654.1" cy="108.8" r="5.0" fill="#b030c8"/><circle cx="663.8" cy="108.8" r="5.0" fill="#b030c8"/><circle cx="797.3" cy="18.0" r="5.0" fill="#b030c8"/><circle cx="807.0" cy="18.0" r="5.0" fill="#b030c8"/><circle cx="787.2" cy="27.0" r="5.0" fill="#b030c8"/><circle cx="797.3" cy="27.0" r="5.0" fill="#b030c8"/><circle cx="807.0" cy="27.0" r="5.0" fill="#b030c8"/><circle cx="777.1" cy="34.8" r="5.0" fill="#b030c8"/><circle cx="787.2" cy="34.8" r="5.0" fill="#b030c8"/><circle cx="797.3" cy="34.8" r="5.0" fill="#b030c8"/><circle cx="807.0" cy="34.8" r="5.0" fill="#b030c8"/><circle cx="768.1" cy="43.1" r="5.0" fill="#b030c8"/><circle cx="777.1" cy="43.1" r="5.0" fill="#b030c8"/><circle cx="797.3" cy="43.1" r="5.0" fill="#b030c8"/><circle cx="807.0" cy="43.1" r="5.0" fill="#b030c8"/><circle cx="797.3" cy="51.2" r="5.0" fill="#b030c8"/><circle cx="807.0" cy="51.2" r="5.0" fill="#b030c8"/><circle cx="797.3" cy="59.5" r="5.0" fill="#b030c8"/><circle cx="807.0" cy="59.5" r="5.0" fill="#b030c8"/><circle cx="797.3" cy="67.4" r="5.0" fill="#b030c8"/><circle cx="807.0" cy="67.4" r="5.0" fill="#b030c8"/><circle cx="797.3" cy="75.3" r="5.0" fill="#b030c8"/><circle cx="807.0" cy="75.3" r="5.0" fill="#b030c8"/><circle cx="797.3" cy="83.1" r="5.0" fill="#b030c8"/><circle cx="807.0" cy="83.1" r="5.0" fill="#b030c8"/><circle cx="797.3" cy="91.0" r="5.0" fill="#b030c8"/><circle cx="807.0" cy="91.0" r="5.0" fill="#b030c8"/><circle cx="768.1" cy="98.9" r="5.0" fill="#b030c8"/><circle cx="778.2" cy="98.9" r="5.0" fill="#b030c8"/><circle cx="787.2" cy="98.9" r="5.0" fill="#b030c8"/><circle cx="797.3" cy="98.9" r="5.0" fill="#b030c8"/><circle cx="806.3" cy="98.9" r="5.0" fill="#b030c8"/><circle cx="815.3" cy="98.9" r="5.0" fill="#b030c8"/><circle cx="825.4" cy="98.9" r="5.0" fill="#b030c8"/><circle cx="768.1" cy="106.7" r="5.0" fill="#b030c8"/><circle cx="778.2" cy="106.7" r="5.0" fill="#b030c8"/><circle cx="787.2" cy="106.7" r="5.0" fill="#b030c8"/><circle cx="797.3" cy="106.7" r="5.0" fill="#b030c8"/><circle cx="806.3" cy="106.7" r="5.0" fill="#b030c8"/><circle cx="815.3" cy="106.7" r="5.0" fill="#b030c8"/><circle cx="825.4" cy="106.7" r="5.0" fill="#b030c8"/><circle cx="854.6" cy="18.0" r="5.0" fill="#b030c8"/><circle cx="863.6" cy="18.0" r="5.0" fill="#b030c8"/><circle cx="873.7" cy="18.0" r="5.0" fill="#b030c8"/><circle cx="882.7" cy="18.0" r="5.0" fill="#b030c8"/><circle cx="892.8" cy="18.0" r="5.0" fill="#b030c8"/><circle cx="901.8" cy="18.0" r="5.0" fill="#b030c8"/><circle cx="911.9" cy="18.0" r="5.0" fill="#b030c8"/><circle cx="922.0" cy="18.0" r="5.0" fill="#b030c8"/><circle cx="854.6" cy="27.0" r="5.0" fill="#b030c8"/><circle cx="863.6" cy="27.0" r="5.0" fill="#b030c8"/><circle cx="873.7" cy="27.0" r="5.0" fill="#b030c8"/><circle cx="882.7" cy="27.0" r="5.0" fill="#b030c8"/><circle cx="892.8" cy="27.0" r="5.0" fill="#b030c8"/><circle cx="901.8" cy="27.0" r="5.0" fill="#b030c8"/><circle cx="911.9" cy="27.0" r="5.0" fill="#b030c8"/><circle cx="922.0" cy="27.0" r="5.0" fill="#b030c8"/><circle cx="931.0" cy="27.0" r="5.0" fill="#b030c8"/><circle cx="854.6" cy="34.8" r="5.0" fill="#b030c8"/><circle cx="863.6" cy="34.8" r="5.0" fill="#b030c8"/><circle cx="919.7" cy="34.8" r="5.0" fill="#b030c8"/><circle cx="929.9" cy="34.8" r="5.0" fill="#b030c8"/><circle cx="910.8" cy="43.1" r="5.0" fill="#b030c8"/><circle cx="919.7" cy="43.1" r="5.0" fill="#b030c8"/><circle cx="910.8" cy="51.2" r="5.0" fill="#b030c8"/><circle cx="919.7" cy="51.2" r="5.0" fill="#b030c8"/><circle cx="900.6" cy="59.5" r="5.0" fill="#b030c8"/><circle cx="910.8" cy="59.5" r="5.0" fill="#b030c8"/><circle cx="890.5" cy="67.4" r="5.0" fill="#b030c8"/><circle cx="900.6" cy="67.4" r="5.0" fill="#b030c8"/><circle cx="880.4" cy="75.3" r="5.0" fill="#b030c8"/><circle cx="890.5" cy="75.3" r="5.0" fill="#b030c8"/><circle cx="871.4" cy="83.1" r="5.0" fill="#b030c8"/><circle cx="881.6" cy="83.1" r="5.0" fill="#b030c8"/><circle cx="861.3" cy="91.0" r="5.0" fill="#b030c8"/><circle cx="871.4" cy="91.0" r="5.0" fill="#b030c8"/><circle cx="861.3" cy="98.9" r="5.0" fill="#b030c8"/><circle cx="871.4" cy="98.9" r="5.0" fill="#b030c8"/><circle cx="861.3" cy="106.7" r="5.0" fill="#b030c8"/><circle cx="871.4" cy="106.7" r="5.0" fill="#b030c8"/><circle cx="996.1" cy="10.1" r="4.5" fill="#ff3a10"/><circle cx="1006.2" cy="10.1" r="4.5" fill="#ff3a10"/><circle cx="1024.2" cy="10.1" r="4.5" fill="#ff3a10"/><circle cx="1033.2" cy="10.1" r="4.5" fill="#ff3a10"/><circle cx="987.2" cy="18.0" r="4.5" fill="#ff3a10"/><circle cx="1014.1" cy="18.0" r="4.5" fill="#ff3a10"/><circle cx="1042.2" cy="18.0" r="4.5" fill="#ff3a10"/><circle cx="986.0" cy="26.5" r="4.5" fill="#ff3a10"/><circle cx="1042.2" cy="26.5" r="4.5" fill="#ff3a10"/><circle cx="995.0" cy="34.8" r="4.5" fill="#ff3a10"/><circle cx="1032.1" cy="34.8" r="4.5" fill="#ff3a10"/><circle cx="1004.0" cy="42.2" r="4.5" fill="#ff3a10"/><circle cx="1022.0" cy="42.2" r="4.5" fill="#ff3a10"/><circle cx="1011.9" cy="49.4" r="4.5" fill="#ff3a10"/><circle cx="973.7" cy="65.2" r="4.5" fill="#1050ff"/><circle cx="982.7" cy="65.2" r="4.5" fill="#1050ff"/><circle cx="963.6" cy="72.3" r="4.5" fill="#1050ff"/><circle cx="973.7" cy="72.3" r="4.5" fill="#1050ff"/><circle cx="982.7" cy="72.3" r="4.5" fill="#1050ff"/><circle cx="973.7" cy="79.8" r="4.5" fill="#1050ff"/><circle cx="982.7" cy="79.8" r="4.5" fill="#1050ff"/><circle cx="972.5" cy="87.6" r="4.5" fill="#1050ff"/><circle cx="981.5" cy="87.6" r="4.5" fill="#1050ff"/><circle cx="972.5" cy="95.5" r="4.5" fill="#1050ff"/><circle cx="981.5" cy="95.5" r="4.5" fill="#1050ff"/><circle cx="962.4" cy="102.9" r="4.5" fill="#1050ff"/><circle cx="971.4" cy="102.9" r="4.5" fill="#1050ff"/><circle cx="980.4" cy="102.9" r="4.5" fill="#1050ff"/><circle cx="989.4" cy="102.9" r="4.5" fill="#1050ff"/><circle cx="1028.7" cy="64.0" r="4.5" fill="#1050ff"/><circle cx="1037.7" cy="64.0" r="4.5" fill="#1050ff"/><circle cx="1046.7" cy="64.0" r="4.5" fill="#1050ff"/><circle cx="1055.7" cy="64.0" r="4.5" fill="#1050ff"/><circle cx="1019.7" cy="71.9" r="4.5" fill="#1050ff"/><circle cx="1028.7" cy="71.9" r="4.5" fill="#1050ff"/><circle cx="1055.7" cy="71.9" r="4.5" fill="#1050ff"/><circle cx="1064.7" cy="71.9" r="4.5" fill="#1050ff"/><circle cx="1018.6" cy="79.8" r="4.5" fill="#1050ff"/><circle cx="1027.6" cy="79.8" r="4.5" fill="#1050ff"/><circle cx="1046.7" cy="79.8" r="4.5" fill="#1050ff"/><circle cx="1054.6" cy="79.8" r="4.5" fill="#1050ff"/><circle cx="1063.5" cy="79.8" r="4.5" fill="#1050ff"/><circle cx="1017.5" cy="86.5" r="4.5" fill="#1050ff"/><circle cx="1026.5" cy="86.5" r="4.5" fill="#1050ff"/><circle cx="1036.6" cy="86.5" r="4.5" fill="#1050ff"/><circle cx="1053.4" cy="86.5" r="4.5" fill="#1050ff"/><circle cx="1062.4" cy="86.5" r="4.5" fill="#1050ff"/><circle cx="1017.5" cy="93.9" r="4.5" fill="#1050ff"/><circle cx="1026.5" cy="93.9" r="4.5" fill="#1050ff"/><circle cx="1053.4" cy="93.9" r="4.5" fill="#1050ff"/><circle cx="1062.4" cy="93.9" r="4.5" fill="#1050ff"/><circle cx="1025.3" cy="102.2" r="4.5" fill="#1050ff"/><circle cx="1034.3" cy="102.2" r="4.5" fill="#1050ff"/><circle cx="1043.3" cy="102.2" r="4.5" fill="#1050ff"/><circle cx="1052.3" cy="102.2" r="4.5" fill="#1050ff"/><circle cx="500.7" cy="133.6" r="4.5" fill="#ff3808"/><circle cx="510.2" cy="133.6" r="4.5" fill="#ff3808"/><circle cx="519.7" cy="133.6" r="4.5" fill="#ff3808"/><circle cx="529.2" cy="133.6" r="4.5" fill="#ff3808"/><circle cx="491.8" cy="141.2" r="4.5" fill="#ff3808"/><circle cx="501.3" cy="141.2" r="4.5" fill="#ff3808"/><circle cx="539.3" cy="141.2" r="4.5" fill="#ff3808"/><circle cx="501.9" cy="148.8" r="4.5" fill="#ff3808"/><circle cx="511.4" cy="148.8" r="4.5" fill="#ff3808"/><circle cx="520.9" cy="148.8" r="4.5" fill="#ff3808"/><circle cx="530.4" cy="148.8" r="4.5" fill="#ff3808"/><circle cx="531.0" cy="156.4" r="4.5" fill="#ff3808"/><circle cx="540.5" cy="156.4" r="4.5" fill="#ff3808"/><circle cx="493.6" cy="164.0" r="4.5" fill="#ff3808"/><circle cx="503.1" cy="164.0" r="4.5" fill="#ff3808"/><circle cx="531.6" cy="164.0" r="4.5" fill="#ff3808"/><circle cx="541.1" cy="164.0" r="4.5" fill="#ff3808"/><circle cx="503.7" cy="171.6" r="4.5" fill="#ff3808"/><circle cx="513.2" cy="171.6" r="4.5" fill="#ff3808"/><circle cx="522.7" cy="171.6" r="4.5" fill="#ff3808"/><circle cx="532.2" cy="171.6" r="4.5" fill="#ff3808"/><circle cx="569.4" cy="140.3" r="4.5" fill="#10b080"/><circle cx="578.9" cy="140.3" r="4.5" fill="#10b080"/><circle cx="588.4" cy="140.3" r="4.5" fill="#10b080"/><circle cx="597.9" cy="140.3" r="4.5" fill="#10b080"/><circle cx="607.4" cy="140.3" r="4.5" fill="#10b080"/><circle cx="560.5" cy="147.9" r="4.5" fill="#10b080"/><circle cx="570.0" cy="147.9" r="4.5" fill="#10b080"/><circle cx="598.5" cy="147.9" r="4.5" fill="#10b080"/><circle cx="608.0" cy="147.9" r="4.5" fill="#10b080"/><circle cx="561.1" cy="155.5" r="4.5" fill="#10b080"/><circle cx="570.6" cy="155.5" r="4.5" fill="#10b080"/><circle cx="599.1" cy="155.5" r="4.5" fill="#10b080"/><circle cx="608.6" cy="155.5" r="4.5" fill="#10b080"/><circle cx="561.7" cy="163.1" r="4.5" fill="#10b080"/><circle cx="571.2" cy="163.1" r="4.5" fill="#10b080"/><circle cx="599.7" cy="163.1" r="4.5" fill="#10b080"/><circle cx="609.2" cy="163.1" r="4.5" fill="#10b080"/><circle cx="571.8" cy="170.7" r="4.5" fill="#10b080"/><circle cx="581.3" cy="170.7" r="4.5" fill="#10b080"/><circle cx="590.8" cy="170.7" r="4.5" fill="#10b080"/><circle cx="609.8" cy="170.7" r="4.5" fill="#10b080"/><circle cx="619.3" cy="170.7" r="4.5" fill="#10b080"/><circle cx="644.9" cy="130.1" r="4.5" fill="#0838ff"/><circle cx="654.4" cy="130.1" r="4.5" fill="#0838ff"/><circle cx="636.0" cy="137.7" r="4.5" fill="#0838ff"/><circle cx="645.5" cy="137.7" r="4.5" fill="#0838ff"/><circle cx="655.0" cy="137.7" r="4.5" fill="#0838ff"/><circle cx="664.5" cy="137.7" r="4.5" fill="#0838ff"/><circle cx="674.0" cy="137.7" r="4.5" fill="#0838ff"/><circle cx="646.1" cy="145.3" r="4.5" fill="#0838ff"/><circle cx="655.6" cy="145.3" r="4.5" fill="#0838ff"/><circle cx="646.7" cy="152.9" r="4.5" fill="#0838ff"/><circle cx="656.2" cy="152.9" r="4.5" fill="#0838ff"/><circle cx="647.3" cy="160.5" r="4.5" fill="#0838ff"/><circle cx="656.8" cy="160.5" r="4.5" fill="#0838ff"/><circle cx="675.8" cy="160.5" r="4.5" fill="#0838ff"/><circle cx="685.3" cy="160.5" r="4.5" fill="#0838ff"/><circle cx="657.4" cy="168.1" r="4.5" fill="#0838ff"/><circle cx="666.9" cy="168.1" r="4.5" fill="#0838ff"/><circle cx="676.4" cy="168.1" r="4.5" fill="#0838ff"/><circle cx="702.6" cy="138.3" r="4.5" fill="#c08850"/><circle cx="712.1" cy="138.3" r="4.5" fill="#c08850"/><circle cx="740.6" cy="138.3" r="4.5" fill="#c08850"/><circle cx="750.1" cy="138.3" r="4.5" fill="#c08850"/><circle cx="703.2" cy="145.9" r="4.5" fill="#c08850"/><circle cx="712.7" cy="145.9" r="4.5" fill="#c08850"/><circle cx="741.2" cy="145.9" r="4.5" fill="#c08850"/><circle cx="750.7" cy="145.9" r="4.5" fill="#c08850"/><circle cx="703.8" cy="153.5" r="4.5" fill="#c08850"/><circle cx="713.3" cy="153.5" r="4.5" fill="#c08850"/><circle cx="741.8" cy="153.5" r="4.5" fill="#c08850"/><circle cx="751.3" cy="153.5" r="4.5" fill="#c08850"/><circle cx="704.4" cy="161.1" r="4.5" fill="#c08850"/><circle cx="713.9" cy="161.1" r="4.5" fill="#c08850"/><circle cx="742.4" cy="161.1" r="4.5" fill="#c08850"/><circle cx="751.9" cy="161.1" r="4.5" fill="#c08850"/><circle cx="714.5" cy="168.7" r="4.5" fill="#c08850"/><circle cx="724.0" cy="168.7" r="4.5" fill="#c08850"/><circle cx="733.5" cy="168.7" r="4.5" fill="#c08850"/><circle cx="752.5" cy="168.7" r="4.5" fill="#c08850"/><circle cx="762.0" cy="168.7" r="4.5" fill="#c08850"/><circle cx="777.1" cy="136.9" r="4.5" fill="#ff3808"/><circle cx="786.6" cy="136.9" r="4.5" fill="#ff3808"/><circle cx="805.6" cy="136.9" r="4.5" fill="#ff3808"/><circle cx="815.1" cy="136.9" r="4.5" fill="#ff3808"/><circle cx="777.7" cy="144.5" r="4.5" fill="#ff3808"/><circle cx="787.2" cy="144.5" r="4.5" fill="#ff3808"/><circle cx="796.7" cy="144.5" r="4.5" fill="#ff3808"/><circle cx="815.7" cy="144.5" r="4.5" fill="#ff3808"/><circle cx="825.2" cy="144.5" r="4.5" fill="#ff3808"/><circle cx="778.3" cy="152.1" r="4.5" fill="#ff3808"/><circle cx="787.8" cy="152.1" r="4.5" fill="#ff3808"/><circle cx="778.9" cy="159.7" r="4.5" fill="#ff3808"/><circle cx="788.4" cy="159.7" r="4.5" fill="#ff3808"/><circle cx="779.5" cy="167.3" r="4.5" fill="#ff3808"/><circle cx="789.0" cy="167.3" r="4.5" fill="#ff3808"/><circle cx="878.2" cy="127.1" r="4.5" fill="#10b080"/><circle cx="887.7" cy="127.1" r="4.5" fill="#10b080"/><circle cx="878.8" cy="134.7" r="4.5" fill="#10b080"/><circle cx="888.3" cy="134.7" r="4.5" fill="#10b080"/><circle cx="850.9" cy="142.3" r="4.5" fill="#10b080"/><circle cx="860.4" cy="142.3" r="4.5" fill="#10b080"/><circle cx="869.9" cy="142.3" r="4.5" fill="#10b080"/><circle cx="879.4" cy="142.3" r="4.5" fill="#10b080"/><circle cx="888.9" cy="142.3" r="4.5" fill="#10b080"/><circle cx="842.0" cy="149.9" r="4.5" fill="#10b080"/><circle cx="851.5" cy="149.9" r="4.5" fill="#10b080"/><circle cx="880.0" cy="149.9" r="4.5" fill="#10b080"/><circle cx="889.5" cy="149.9" r="4.5" fill="#10b080"/><circle cx="842.6" cy="157.5" r="4.5" fill="#10b080"/><circle cx="852.1" cy="157.5" r="4.5" fill="#10b080"/><circle cx="880.6" cy="157.5" r="4.5" fill="#10b080"/><circle cx="890.1" cy="157.5" r="4.5" fill="#10b080"/><circle cx="852.7" cy="165.1" r="4.5" fill="#10b080"/><circle cx="862.2" cy="165.1" r="4.5" fill="#10b080"/><circle cx="871.7" cy="165.1" r="4.5" fill="#10b080"/><circle cx="881.2" cy="165.1" r="4.5" fill="#10b080"/><circle cx="890.7" cy="165.1" r="4.5" fill="#10b080"/><circle cx="914.4" cy="132.6" r="4.5" fill="#0838ff"/><circle cx="923.9" cy="132.6" r="4.5" fill="#0838ff"/><circle cx="933.4" cy="132.6" r="4.5" fill="#0838ff"/><circle cx="942.9" cy="132.6" r="4.5" fill="#0838ff"/><circle cx="952.4" cy="132.6" r="4.5" fill="#0838ff"/><circle cx="905.5" cy="140.2" r="4.5" fill="#0838ff"/><circle cx="915.0" cy="140.2" r="4.5" fill="#0838ff"/><circle cx="943.5" cy="140.2" r="4.5" fill="#0838ff"/><circle cx="953.0" cy="140.2" r="4.5" fill="#0838ff"/><circle cx="906.1" cy="147.8" r="4.5" fill="#0838ff"/><circle cx="915.6" cy="147.8" r="4.5" fill="#0838ff"/><circle cx="944.1" cy="147.8" r="4.5" fill="#0838ff"/><circle cx="953.6" cy="147.8" r="4.5" fill="#0838ff"/><circle cx="906.7" cy="155.4" r="4.5" fill="#0838ff"/><circle cx="916.2" cy="155.4" r="4.5" fill="#0838ff"/><circle cx="944.7" cy="155.4" r="4.5" fill="#0838ff"/><circle cx="954.2" cy="155.4" r="4.5" fill="#0838ff"/><circle cx="916.8" cy="163.0" r="4.5" fill="#0838ff"/><circle cx="926.3" cy="163.0" r="4.5" fill="#0838ff"/><circle cx="935.8" cy="163.0" r="4.5" fill="#0838ff"/><circle cx="954.8" cy="163.0" r="4.5" fill="#0838ff"/><circle cx="964.3" cy="163.0" r="4.5" fill="#0838ff"/><circle cx="977.1" cy="132.8" r="4.5" fill="#c08850"/><circle cx="986.6" cy="132.8" r="4.5" fill="#c08850"/><circle cx="1015.1" cy="132.8" r="4.5" fill="#c08850"/><circle cx="1024.6" cy="132.8" r="4.5" fill="#c08850"/><circle cx="977.7" cy="140.4" r="4.5" fill="#c08850"/><circle cx="987.2" cy="140.4" r="4.5" fill="#c08850"/><circle cx="1015.7" cy="140.4" r="4.5" fill="#c08850"/><circle cx="1025.2" cy="140.4" r="4.5" fill="#c08850"/><circle cx="978.3" cy="148.0" r="4.5" fill="#c08850"/><circle cx="987.8" cy="148.0" r="4.5" fill="#c08850"/><circle cx="1016.3" cy="148.0" r="4.5" fill="#c08850"/><circle cx="1025.8" cy="148.0" r="4.5" fill="#c08850"/><circle cx="988.4" cy="155.6" r="4.5" fill="#c08850"/><circle cx="997.9" cy="155.6" r="4.5" fill="#c08850"/><circle cx="1007.4" cy="155.6" r="4.5" fill="#c08850"/><circle cx="1016.9" cy="155.6" r="4.5" fill="#c08850"/><circle cx="1026.4" cy="155.6" r="4.5" fill="#c08850"/><circle cx="1017.5" cy="163.2" r="4.5" fill="#c08850"/><circle cx="1027.0" cy="163.2" r="4.5" fill="#c08850"/><circle cx="989.6" cy="170.8" r="4.5" fill="#c08850"/><circle cx="999.1" cy="170.8" r="4.5" fill="#c08850"/><circle cx="1008.6" cy="170.8" r="4.5" fill="#c08850"/><circle cx="1018.1" cy="170.8" r="4.5" fill="#c08850"/><circle cx="516.2" cy="193.0" r="4.5" fill="#10b080"/><circle cx="525.7" cy="193.0" r="4.5" fill="#10b080"/><circle cx="535.2" cy="193.0" r="4.5" fill="#10b080"/><circle cx="544.7" cy="193.0" r="4.5" fill="#10b080"/><circle cx="507.3" cy="200.6" r="4.5" fill="#10b080"/><circle cx="516.8" cy="200.6" r="4.5" fill="#10b080"/><circle cx="545.3" cy="200.6" r="4.5" fill="#10b080"/><circle cx="554.8" cy="200.6" r="4.5" fill="#10b080"/><circle cx="545.9" cy="208.2" r="4.5" fill="#10b080"/><circle cx="555.4" cy="208.2" r="4.5" fill="#10b080"/><circle cx="518.0" cy="215.8" r="4.5" fill="#10b080"/><circle cx="527.5" cy="215.8" r="4.5" fill="#10b080"/><circle cx="537.0" cy="215.8" r="4.5" fill="#10b080"/><circle cx="546.5" cy="215.8" r="4.5" fill="#10b080"/><circle cx="509.1" cy="223.4" r="4.5" fill="#10b080"/><circle cx="518.6" cy="223.4" r="4.5" fill="#10b080"/><circle cx="509.7" cy="231.0" r="4.5" fill="#10b080"/><circle cx="519.2" cy="231.0" r="4.5" fill="#10b080"/><circle cx="528.7" cy="231.0" r="4.5" fill="#10b080"/><circle cx="538.2" cy="231.0" r="4.5" fill="#10b080"/><circle cx="547.7" cy="231.0" r="4.5" fill="#10b080"/><circle cx="557.2" cy="231.0" r="4.5" fill="#10b080"/><circle cx="583.2" cy="192.3" r="4.5" fill="#10b080"/><circle cx="592.7" cy="192.3" r="4.5" fill="#10b080"/><circle cx="602.2" cy="192.3" r="4.5" fill="#10b080"/><circle cx="611.7" cy="192.3" r="4.5" fill="#10b080"/><circle cx="574.3" cy="199.9" r="4.5" fill="#10b080"/><circle cx="583.8" cy="199.9" r="4.5" fill="#10b080"/><circle cx="612.3" cy="199.9" r="4.5" fill="#10b080"/><circle cx="621.8" cy="199.9" r="4.5" fill="#10b080"/><circle cx="574.9" cy="207.5" r="4.5" fill="#10b080"/><circle cx="584.4" cy="207.5" r="4.5" fill="#10b080"/><circle cx="603.4" cy="207.5" r="4.5" fill="#10b080"/><circle cx="612.9" cy="207.5" r="4.5" fill="#10b080"/><circle cx="622.4" cy="207.5" r="4.5" fill="#10b080"/><circle cx="575.5" cy="215.1" r="4.5" fill="#10b080"/><circle cx="585.0" cy="215.1" r="4.5" fill="#10b080"/><circle cx="594.5" cy="215.1" r="4.5" fill="#10b080"/><circle cx="613.5" cy="215.1" r="4.5" fill="#10b080"/><circle cx="623.0" cy="215.1" r="4.5" fill="#10b080"/><circle cx="576.1" cy="222.7" r="4.5" fill="#10b080"/><circle cx="585.6" cy="222.7" r="4.5" fill="#10b080"/><circle cx="614.1" cy="222.7" r="4.5" fill="#10b080"/><circle cx="623.6" cy="222.7" r="4.5" fill="#10b080"/><circle cx="586.2" cy="230.3" r="4.5" fill="#10b080"/><circle cx="595.7" cy="230.3" r="4.5" fill="#10b080"/><circle cx="605.2" cy="230.3" r="4.5" fill="#10b080"/><circle cx="614.7" cy="230.3" r="4.5" fill="#10b080"/><circle cx="648.1" cy="191.7" r="4.5" fill="#ff3808"/><circle cx="657.6" cy="191.7" r="4.5" fill="#ff3808"/><circle cx="667.1" cy="191.7" r="4.5" fill="#ff3808"/><circle cx="676.6" cy="191.7" r="4.5" fill="#ff3808"/><circle cx="639.2" cy="199.3" r="4.5" fill="#ff3808"/><circle cx="648.7" cy="199.3" r="4.5" fill="#ff3808"/><circle cx="677.2" cy="199.3" r="4.5" fill="#ff3808"/><circle cx="686.7" cy="199.3" r="4.5" fill="#ff3808"/><circle cx="639.8" cy="206.9" r="4.5" fill="#ff3808"/><circle cx="649.3" cy="206.9" r="4.5" fill="#ff3808"/><circle cx="677.8" cy="206.9" r="4.5" fill="#ff3808"/><circle cx="687.3" cy="206.9" r="4.5" fill="#ff3808"/><circle cx="640.4" cy="214.5" r="4.5" fill="#ff3808"/><circle cx="649.9" cy="214.5" r="4.5" fill="#ff3808"/><circle cx="678.4" cy="214.5" r="4.5" fill="#ff3808"/><circle cx="687.9" cy="214.5" r="4.5" fill="#ff3808"/><circle cx="641.0" cy="222.1" r="4.5" fill="#ff3808"/><circle cx="650.5" cy="222.1" r="4.5" fill="#ff3808"/><circle cx="679.0" cy="222.1" r="4.5" fill="#ff3808"/><circle cx="688.5" cy="222.1" r="4.5" fill="#ff3808"/><circle cx="651.1" cy="229.7" r="4.5" fill="#ff3808"/><circle cx="660.6" cy="229.7" r="4.5" fill="#ff3808"/><circle cx="670.1" cy="229.7" r="4.5" fill="#ff3808"/><circle cx="679.6" cy="229.7" r="4.5" fill="#ff3808"/><circle cx="712.5" cy="197.7" r="4.5" fill="#ff3808"/><circle cx="722.0" cy="197.7" r="4.5" fill="#ff3808"/><circle cx="731.5" cy="197.7" r="4.5" fill="#ff3808"/><circle cx="741.0" cy="197.7" r="4.5" fill="#ff3808"/><circle cx="703.6" cy="205.3" r="4.5" fill="#ff3808"/><circle cx="713.1" cy="205.3" r="4.5" fill="#ff3808"/><circle cx="741.6" cy="205.3" r="4.5" fill="#ff3808"/><circle cx="751.1" cy="205.3" r="4.5" fill="#ff3808"/><circle cx="704.2" cy="212.9" r="4.5" fill="#ff3808"/><circle cx="713.7" cy="212.9" r="4.5" fill="#ff3808"/><circle cx="704.8" cy="220.5" r="4.5" fill="#ff3808"/><circle cx="714.3" cy="220.5" r="4.5" fill="#ff3808"/><circle cx="742.8" cy="220.5" r="4.5" fill="#ff3808"/><circle cx="752.3" cy="220.5" r="4.5" fill="#ff3808"/><circle cx="714.9" cy="228.1" r="4.5" fill="#ff3808"/><circle cx="724.4" cy="228.1" r="4.5" fill="#ff3808"/><circle cx="733.9" cy="228.1" r="4.5" fill="#ff3808"/><circle cx="743.4" cy="228.1" r="4.5" fill="#ff3808"/><circle cx="776.7" cy="188.6" r="4.5" fill="#ff3808"/><circle cx="786.2" cy="188.6" r="4.5" fill="#ff3808"/><circle cx="767.8" cy="196.2" r="4.5" fill="#ff3808"/><circle cx="777.3" cy="196.2" r="4.5" fill="#ff3808"/><circle cx="786.8" cy="196.2" r="4.5" fill="#ff3808"/><circle cx="796.3" cy="196.2" r="4.5" fill="#ff3808"/><circle cx="805.8" cy="196.2" r="4.5" fill="#ff3808"/><circle cx="777.9" cy="203.8" r="4.5" fill="#ff3808"/><circle cx="787.4" cy="203.8" r="4.5" fill="#ff3808"/><circle cx="778.5" cy="211.4" r="4.5" fill="#ff3808"/><circle cx="788.0" cy="211.4" r="4.5" fill="#ff3808"/><circle cx="779.1" cy="219.0" r="4.5" fill="#ff3808"/><circle cx="788.6" cy="219.0" r="4.5" fill="#ff3808"/><circle cx="807.6" cy="219.0" r="4.5" fill="#ff3808"/><circle cx="817.1" cy="219.0" r="4.5" fill="#ff3808"/><circle cx="789.2" cy="226.6" r="4.5" fill="#ff3808"/><circle cx="798.7" cy="226.6" r="4.5" fill="#ff3808"/><circle cx="808.2" cy="226.6" r="4.5" fill="#ff3808"/><circle cx="840.3" cy="186.7" r="4.5" fill="#10b080"/><circle cx="849.8" cy="186.7" r="4.5" fill="#10b080"/><circle cx="859.3" cy="186.7" r="4.5" fill="#10b080"/><circle cx="868.8" cy="186.7" r="4.5" fill="#10b080"/><circle cx="831.4" cy="194.3" r="4.5" fill="#10b080"/><circle cx="840.9" cy="194.3" r="4.5" fill="#10b080"/><circle cx="869.4" cy="194.3" r="4.5" fill="#10b080"/><circle cx="878.9" cy="194.3" r="4.5" fill="#10b080"/><circle cx="870.0" cy="201.9" r="4.5" fill="#10b080"/><circle cx="879.5" cy="201.9" r="4.5" fill="#10b080"/><circle cx="842.1" cy="209.5" r="4.5" fill="#10b080"/><circle cx="851.6" cy="209.5" r="4.5" fill="#10b080"/><circle cx="861.1" cy="209.5" r="4.5" fill="#10b080"/><circle cx="870.6" cy="209.5" r="4.5" fill="#10b080"/><circle cx="833.2" cy="217.1" r="4.5" fill="#10b080"/><circle cx="842.7" cy="217.1" r="4.5" fill="#10b080"/><circle cx="833.8" cy="224.7" r="4.5" fill="#10b080"/><circle cx="843.3" cy="224.7" r="4.5" fill="#10b080"/><circle cx="852.8" cy="224.7" r="4.5" fill="#10b080"/><circle cx="862.3" cy="224.7" r="4.5" fill="#10b080"/><circle cx="871.8" cy="224.7" r="4.5" fill="#10b080"/><circle cx="881.3" cy="224.7" r="4.5" fill="#10b080"/><circle cx="902.7" cy="184.9" r="4.5" fill="#10b080"/><circle cx="912.2" cy="184.9" r="4.5" fill="#10b080"/><circle cx="921.7" cy="184.9" r="4.5" fill="#10b080"/><circle cx="931.2" cy="184.9" r="4.5" fill="#10b080"/><circle cx="893.8" cy="192.5" r="4.5" fill="#10b080"/><circle cx="903.3" cy="192.5" r="4.5" fill="#10b080"/><circle cx="931.8" cy="192.5" r="4.5" fill="#10b080"/><circle cx="941.3" cy="192.5" r="4.5" fill="#10b080"/><circle cx="894.4" cy="200.1" r="4.5" fill="#10b080"/><circle cx="903.9" cy="200.1" r="4.5" fill="#10b080"/><circle cx="922.9" cy="200.1" r="4.5" fill="#10b080"/><circle cx="932.4" cy="200.1" r="4.5" fill="#10b080"/><circle cx="941.9" cy="200.1" r="4.5" fill="#10b080"/><circle cx="895.0" cy="207.7" r="4.5" fill="#10b080"/><circle cx="904.5" cy="207.7" r="4.5" fill="#10b080"/><circle cx="914.0" cy="207.7" r="4.5" fill="#10b080"/><circle cx="933.0" cy="207.7" r="4.5" fill="#10b080"/><circle cx="942.5" cy="207.7" r="4.5" fill="#10b080"/><circle cx="895.6" cy="215.3" r="4.5" fill="#10b080"/><circle cx="905.1" cy="215.3" r="4.5" fill="#10b080"/><circle cx="933.6" cy="215.3" r="4.5" fill="#10b080"/><circle cx="943.1" cy="215.3" r="4.5" fill="#10b080"/><circle cx="905.7" cy="222.9" r="4.5" fill="#10b080"/><circle cx="915.2" cy="222.9" r="4.5" fill="#10b080"/><circle cx="924.7" cy="222.9" r="4.5" fill="#10b080"/><circle cx="934.2" cy="222.9" r="4.5" fill="#10b080"/><circle cx="974.7" cy="183.0" r="4.5" fill="#10b080"/><circle cx="984.2" cy="183.0" r="4.5" fill="#10b080"/><circle cx="965.8" cy="190.6" r="4.5" fill="#10b080"/><circle cx="975.3" cy="190.6" r="4.5" fill="#10b080"/><circle cx="984.8" cy="190.6" r="4.5" fill="#10b080"/><circle cx="975.9" cy="198.2" r="4.5" fill="#10b080"/><circle cx="985.4" cy="198.2" r="4.5" fill="#10b080"/><circle cx="976.5" cy="205.8" r="4.5" fill="#10b080"/><circle cx="986.0" cy="205.8" r="4.5" fill="#10b080"/><circle cx="977.1" cy="213.4" r="4.5" fill="#10b080"/><circle cx="986.6" cy="213.4" r="4.5" fill="#10b080"/><circle cx="968.2" cy="221.0" r="4.5" fill="#10b080"/><circle cx="977.7" cy="221.0" r="4.5" fill="#10b080"/><circle cx="987.2" cy="221.0" r="4.5" fill="#10b080"/><circle cx="996.7" cy="221.0" r="4.5" fill="#10b080"/><circle cx="1025.3" cy="181.7" r="4.5" fill="#10b080"/><circle cx="1034.8" cy="181.7" r="4.5" fill="#10b080"/><circle cx="1044.3" cy="181.7" r="4.5" fill="#10b080"/><circle cx="1053.8" cy="181.7" r="4.5" fill="#10b080"/><circle cx="1016.4" cy="189.3" r="4.5" fill="#10b080"/><circle cx="1025.9" cy="189.3" r="4.5" fill="#10b080"/><circle cx="1054.4" cy="189.3" r="4.5" fill="#10b080"/><circle cx="1063.9" cy="189.3" r="4.5" fill="#10b080"/><circle cx="1026.5" cy="196.9" r="4.5" fill="#10b080"/><circle cx="1036.0" cy="196.9" r="4.5" fill="#10b080"/><circle cx="1045.5" cy="196.9" r="4.5" fill="#10b080"/><circle cx="1055.0" cy="196.9" r="4.5" fill="#10b080"/><circle cx="1017.6" cy="204.5" r="4.5" fill="#10b080"/><circle cx="1027.1" cy="204.5" r="4.5" fill="#10b080"/><circle cx="1055.6" cy="204.5" r="4.5" fill="#10b080"/><circle cx="1065.1" cy="204.5" r="4.5" fill="#10b080"/><circle cx="1018.2" cy="212.1" r="4.5" fill="#10b080"/><circle cx="1027.7" cy="212.1" r="4.5" fill="#10b080"/><circle cx="1056.2" cy="212.1" r="4.5" fill="#10b080"/><circle cx="1065.7" cy="212.1" r="4.5" fill="#10b080"/><circle cx="1028.3" cy="219.7" r="4.5" fill="#10b080"/><circle cx="1037.8" cy="219.7" r="4.5" fill="#10b080"/><circle cx="1047.3" cy="219.7" r="4.5" fill="#10b080"/><circle cx="1056.8" cy="219.7" r="4.5" fill="#10b080"/></g>
<g><circle cx="551.0" cy="20.3" r="3.8" fill="#ffe6ff"/><circle cx="560.8" cy="20.3" r="3.8" fill="#ffe6ff"/><circle cx="570.5" cy="20.3" r="3.8" fill="#ffe6ff"/><circle cx="581.0" cy="20.3" r="3.8" fill="#ffe6ff"/><circle cx="538.5" cy="29.4" r="3.8" fill="#ffe6ff"/><circle cx="551.0" cy="29.4" r="3.8" fill="#ffe6ff"/><circle cx="560.8" cy="29.4" r="3.8" fill="#ffe6ff"/><circle cx="570.5" cy="29.4" r="3.8" fill="#ffe6ff"/><circle cx="581.0" cy="29.4" r="3.8" fill="#ffe6ff"/><circle cx="591.4" cy="29.4" r="3.8" fill="#ffe6ff"/><circle cx="532.2" cy="37.7" r="3.8" fill="#ffe6ff"/><circle cx="542.0" cy="37.7" r="3.8" fill="#ffe6ff"/><circle cx="581.7" cy="37.7" r="3.8" fill="#ffe6ff"/><circle cx="591.4" cy="37.7" r="3.8" fill="#ffe6ff"/><circle cx="521.8" cy="45.4" r="3.8" fill="#ffe6ff"/><circle cx="532.2" cy="45.4" r="3.8" fill="#ffe6ff"/><circle cx="582.4" cy="45.4" r="3.8" fill="#ffe6ff"/><circle cx="592.1" cy="45.4" r="3.8" fill="#ffe6ff"/><circle cx="523.2" cy="53.7" r="3.8" fill="#ffe6ff"/><circle cx="532.9" cy="53.7" r="3.8" fill="#ffe6ff"/><circle cx="583.1" cy="53.7" r="3.8" fill="#ffe6ff"/><circle cx="592.8" cy="53.7" r="3.8" fill="#ffe6ff"/><circle cx="523.9" cy="61.4" r="3.8" fill="#ffe6ff"/><circle cx="534.3" cy="61.4" r="3.8" fill="#ffe6ff"/><circle cx="583.1" cy="61.4" r="3.8" fill="#ffe6ff"/><circle cx="593.5" cy="61.4" r="3.8" fill="#ffe6ff"/><circle cx="524.6" cy="69.8" r="3.8" fill="#ffe6ff"/><circle cx="583.8" cy="69.8" r="3.8" fill="#ffe6ff"/><circle cx="515.5" cy="77.4" r="3.8" fill="#ffe6ff"/><circle cx="524.6" cy="77.4" r="3.8" fill="#ffe6ff"/><circle cx="574.7" cy="77.4" r="3.8" fill="#ffe6ff"/><circle cx="584.5" cy="77.4" r="3.8" fill="#ffe6ff"/><circle cx="516.2" cy="85.8" r="3.8" fill="#ffe6ff"/><circle cx="526.0" cy="85.8" r="3.8" fill="#ffe6ff"/><circle cx="574.7" cy="85.8" r="3.8" fill="#ffe6ff"/><circle cx="585.2" cy="85.8" r="3.8" fill="#ffe6ff"/><circle cx="516.9" cy="94.1" r="3.8" fill="#ffe6ff"/><circle cx="526.7" cy="94.1" r="3.8" fill="#ffe6ff"/><circle cx="565.7" cy="94.1" r="3.8" fill="#ffe6ff"/><circle cx="575.4" cy="94.1" r="3.8" fill="#ffe6ff"/><circle cx="516.9" cy="101.8" r="3.8" fill="#ffe6ff"/><circle cx="527.4" cy="101.8" r="3.8" fill="#ffe6ff"/><circle cx="537.1" cy="101.8" r="3.8" fill="#ffe6ff"/><circle cx="546.9" cy="101.8" r="3.8" fill="#ffe6ff"/><circle cx="556.6" cy="101.8" r="3.8" fill="#ffe6ff"/><circle cx="566.4" cy="101.8" r="3.8" fill="#ffe6ff"/><circle cx="576.1" cy="101.8" r="3.8" fill="#ffe6ff"/><circle cx="528.1" cy="109.5" r="3.8" fill="#ffe6ff"/><circle cx="537.8" cy="109.5" r="3.8" fill="#ffe6ff"/><circle cx="547.5" cy="109.5" r="3.8" fill="#ffe6ff"/><circle cx="557.3" cy="109.5" r="3.8" fill="#ffe6ff"/><circle cx="660.4" cy="20.3" r="3.8" fill="#ffe6ff"/><circle cx="670.1" cy="20.3" r="3.8" fill="#ffe6ff"/><circle cx="679.9" cy="20.3" r="3.8" fill="#ffe6ff"/><circle cx="690.3" cy="20.3" r="3.8" fill="#ffe6ff"/><circle cx="650.6" cy="28.7" r="3.8" fill="#ffe6ff"/><circle cx="660.4" cy="28.7" r="3.8" fill="#ffe6ff"/><circle cx="670.1" cy="28.7" r="3.8" fill="#ffe6ff"/><circle cx="679.9" cy="28.7" r="3.8" fill="#ffe6ff"/><circle cx="690.3" cy="28.7" r="3.8" fill="#ffe6ff"/><circle cx="631.8" cy="37.0" r="3.8" fill="#ffe6ff"/><circle cx="641.6" cy="37.0" r="3.8" fill="#ffe6ff"/><circle cx="651.3" cy="37.0" r="3.8" fill="#ffe6ff"/><circle cx="631.8" cy="45.4" r="3.8" fill="#ffe6ff"/><circle cx="641.6" cy="45.4" r="3.8" fill="#ffe6ff"/><circle cx="622.1" cy="53.7" r="3.8" fill="#ffe6ff"/><circle cx="631.8" cy="53.7" r="3.8" fill="#ffe6ff"/><circle cx="622.1" cy="61.4" r="3.8" fill="#ffe6ff"/><circle cx="631.8" cy="61.4" r="3.8" fill="#ffe6ff"/><circle cx="641.6" cy="61.4" r="3.8" fill="#ffe6ff"/><circle cx="652.0" cy="61.4" r="3.8" fill="#ffe6ff"/><circle cx="661.8" cy="61.4" r="3.8" fill="#ffe6ff"/><circle cx="671.5" cy="61.4" r="3.8" fill="#ffe6ff"/><circle cx="613.7" cy="69.1" r="3.8" fill="#ffe6ff"/><circle cx="622.8" cy="69.1" r="3.8" fill="#ffe6ff"/><circle cx="632.5" cy="69.1" r="3.8" fill="#ffe6ff"/><circle cx="642.3" cy="69.1" r="3.8" fill="#ffe6ff"/><circle cx="652.0" cy="69.1" r="3.8" fill="#ffe6ff"/><circle cx="661.8" cy="69.1" r="3.8" fill="#ffe6ff"/><circle cx="671.5" cy="69.1" r="3.8" fill="#ffe6ff"/><circle cx="681.3" cy="69.1" r="3.8" fill="#ffe6ff"/><circle cx="613.7" cy="77.4" r="3.8" fill="#ffe6ff"/><circle cx="623.5" cy="77.4" r="3.8" fill="#ffe6ff"/><circle cx="633.2" cy="77.4" r="3.8" fill="#ffe6ff"/><circle cx="672.2" cy="77.4" r="3.8" fill="#ffe6ff"/><circle cx="681.9" cy="77.4" r="3.8" fill="#ffe6ff"/><circle cx="613.7" cy="85.1" r="3.8" fill="#ffe6ff"/><circle cx="623.5" cy="85.1" r="3.8" fill="#ffe6ff"/><circle cx="672.2" cy="85.1" r="3.8" fill="#ffe6ff"/><circle cx="681.9" cy="85.1" r="3.8" fill="#ffe6ff"/><circle cx="614.4" cy="92.7" r="3.8" fill="#ffe6ff"/><circle cx="624.2" cy="92.7" r="3.8" fill="#ffe6ff"/><circle cx="662.5" cy="92.7" r="3.8" fill="#ffe6ff"/><circle cx="672.2" cy="92.7" r="3.8" fill="#ffe6ff"/><circle cx="681.9" cy="92.7" r="3.8" fill="#ffe6ff"/><circle cx="614.4" cy="101.1" r="3.8" fill="#ffe6ff"/><circle cx="624.8" cy="101.1" r="3.8" fill="#ffe6ff"/><circle cx="634.6" cy="101.1" r="3.8" fill="#ffe6ff"/><circle cx="644.3" cy="101.1" r="3.8" fill="#ffe6ff"/><circle cx="654.1" cy="101.1" r="3.8" fill="#ffe6ff"/><circle cx="663.8" cy="101.1" r="3.8" fill="#ffe6ff"/><circle cx="672.9" cy="101.1" r="3.8" fill="#ffe6ff"/><circle cx="624.8" cy="108.8" r="3.8" fill="#ffe6ff"/><circle cx="634.6" cy="108.8" r="3.8" fill="#ffe6ff"/><circle cx="644.3" cy="108.8" r="3.8" fill="#ffe6ff"/><circle cx="654.1" cy="108.8" r="3.8" fill="#ffe6ff"/><circle cx="663.8" cy="108.8" r="3.8" fill="#ffe6ff"/><circle cx="797.3" cy="18.0" r="3.8" fill="#ffe6ff"/><circle cx="807.0" cy="18.0" r="3.8" fill="#ffe6ff"/><circle cx="787.2" cy="27.0" r="3.8" fill="#ffe6ff"/><circle cx="797.3" cy="27.0" r="3.8" fill="#ffe6ff"/><circle cx="807.0" cy="27.0" r="3.8" fill="#ffe6ff"/><circle cx="777.1" cy="34.8" r="3.8" fill="#ffe6ff"/><circle cx="787.2" cy="34.8" r="3.8" fill="#ffe6ff"/><circle cx="797.3" cy="34.8" r="3.8" fill="#ffe6ff"/><circle cx="807.0" cy="34.8" r="3.8" fill="#ffe6ff"/><circle cx="768.1" cy="43.1" r="3.8" fill="#ffe6ff"/><circle cx="777.1" cy="43.1" r="3.8" fill="#ffe6ff"/><circle cx="797.3" cy="43.1" r="3.8" fill="#ffe6ff"/><circle cx="807.0" cy="43.1" r="3.8" fill="#ffe6ff"/><circle cx="797.3" cy="51.2" r="3.8" fill="#ffe6ff"/><circle cx="807.0" cy="51.2" r="3.8" fill="#ffe6ff"/><circle cx="797.3" cy="59.5" r="3.8" fill="#ffe6ff"/><circle cx="807.0" cy="59.5" r="3.8" fill="#ffe6ff"/><circle cx="797.3" cy="67.4" r="3.8" fill="#ffe6ff"/><circle cx="807.0" cy="67.4" r="3.8" fill="#ffe6ff"/><circle cx="797.3" cy="75.3" r="3.8" fill="#ffe6ff"/><circle cx="807.0" cy="75.3" r="3.8" fill="#ffe6ff"/><circle cx="797.3" cy="83.1" r="3.8" fill="#ffe6ff"/><circle cx="807.0" cy="83.1" r="3.8" fill="#ffe6ff"/><circle cx="797.3" cy="91.0" r="3.8" fill="#ffe6ff"/><circle cx="807.0" cy="91.0" r="3.8" fill="#ffe6ff"/><circle cx="768.1" cy="98.9" r="3.8" fill="#ffe6ff"/><circle cx="778.2" cy="98.9" r="3.8" fill="#ffe6ff"/><circle cx="787.2" cy="98.9" r="3.8" fill="#ffe6ff"/><circle cx="797.3" cy="98.9" r="3.8" fill="#ffe6ff"/><circle cx="806.3" cy="98.9" r="3.8" fill="#ffe6ff"/><circle cx="815.3" cy="98.9" r="3.8" fill="#ffe6ff"/><circle cx="825.4" cy="98.9" r="3.8" fill="#ffe6ff"/><circle cx="768.1" cy="106.7" r="3.8" fill="#ffe6ff"/><circle cx="778.2" cy="106.7" r="3.8" fill="#ffe6ff"/><circle cx="787.2" cy="106.7" r="3.8" fill="#ffe6ff"/><circle cx="797.3" cy="106.7" r="3.8" fill="#ffe6ff"/><circle cx="806.3" cy="106.7" r="3.8" fill="#ffe6ff"/><circle cx="815.3" cy="106.7" r="3.8" fill="#ffe6ff"/><circle cx="825.4" cy="106.7" r="3.8" fill="#ffe6ff"/><circle cx="854.6" cy="18.0" r="3.8" fill="#ffe6ff"/><circle cx="863.6" cy="18.0" r="3.8" fill="#ffe6ff"/><circle cx="873.7" cy="18.0" r="3.8" fill="#ffe6ff"/><circle cx="882.7" cy="18.0" r="3.8" fill="#ffe6ff"/><circle cx="892.8" cy="18.0" r="3.8" fill="#ffe6ff"/><circle cx="901.8" cy="18.0" r="3.8" fill="#ffe6ff"/><circle cx="911.9" cy="18.0" r="3.8" fill="#ffe6ff"/><circle cx="922.0" cy="18.0" r="3.8" fill="#ffe6ff"/><circle cx="854.6" cy="27.0" r="3.8" fill="#ffe6ff"/><circle cx="863.6" cy="27.0" r="3.8" fill="#ffe6ff"/><circle cx="873.7" cy="27.0" r="3.8" fill="#ffe6ff"/><circle cx="882.7" cy="27.0" r="3.8" fill="#ffe6ff"/><circle cx="892.8" cy="27.0" r="3.8" fill="#ffe6ff"/><circle cx="901.8" cy="27.0" r="3.8" fill="#ffe6ff"/><circle cx="911.9" cy="27.0" r="3.8" fill="#ffe6ff"/><circle cx="922.0" cy="27.0" r="3.8" fill="#ffe6ff"/><circle cx="931.0" cy="27.0" r="3.8" fill="#ffe6ff"/><circle cx="854.6" cy="34.8" r="3.8" fill="#ffe6ff"/><circle cx="863.6" cy="34.8" r="3.8" fill="#ffe6ff"/><circle cx="919.7" cy="34.8" r="3.8" fill="#ffe6ff"/><circle cx="929.9" cy="34.8" r="3.8" fill="#ffe6ff"/><circle cx="910.8" cy="43.1" r="3.8" fill="#ffe6ff"/><circle cx="919.7" cy="43.1" r="3.8" fill="#ffe6ff"/><circle cx="910.8" cy="51.2" r="3.8" fill="#ffe6ff"/><circle cx="919.7" cy="51.2" r="3.8" fill="#ffe6ff"/><circle cx="900.6" cy="59.5" r="3.8" fill="#ffe6ff"/><circle cx="910.8" cy="59.5" r="3.8" fill="#ffe6ff"/><circle cx="890.5" cy="67.4" r="3.8" fill="#ffe6ff"/><circle cx="900.6" cy="67.4" r="3.8" fill="#ffe6ff"/><circle cx="880.4" cy="75.3" r="3.8" fill="#ffe6ff"/><circle cx="890.5" cy="75.3" r="3.8" fill="#ffe6ff"/><circle cx="871.4" cy="83.1" r="3.8" fill="#ffe6ff"/><circle cx="881.6" cy="83.1" r="3.8" fill="#ffe6ff"/><circle cx="861.3" cy="91.0" r="3.8" fill="#ffe6ff"/><circle cx="871.4" cy="91.0" r="3.8" fill="#ffe6ff"/><circle cx="861.3" cy="98.9" r="3.8" fill="#ffe6ff"/><circle cx="871.4" cy="98.9" r="3.8" fill="#ffe6ff"/><circle cx="861.3" cy="106.7" r="3.8" fill="#ffe6ff"/><circle cx="871.4" cy="106.7" r="3.8" fill="#ffe6ff"/><circle cx="996.1" cy="10.1" r="3.2" fill="#ffd090"/><circle cx="1006.2" cy="10.1" r="3.2" fill="#ffd090"/><circle cx="1024.2" cy="10.1" r="3.2" fill="#ffd090"/><circle cx="1033.2" cy="10.1" r="3.2" fill="#ffd090"/><circle cx="987.2" cy="18.0" r="3.2" fill="#ffd090"/><circle cx="1014.1" cy="18.0" r="3.2" fill="#ffd090"/><circle cx="1042.2" cy="18.0" r="3.2" fill="#ffd090"/><circle cx="986.0" cy="26.5" r="3.2" fill="#ffd090"/><circle cx="1042.2" cy="26.5" r="3.2" fill="#ffd090"/><circle cx="995.0" cy="34.8" r="3.2" fill="#ffd090"/><circle cx="1032.1" cy="34.8" r="3.2" fill="#ffd090"/><circle cx="1004.0" cy="42.2" r="3.2" fill="#ffd090"/><circle cx="1022.0" cy="42.2" r="3.2" fill="#ffd090"/><circle cx="1011.9" cy="49.4" r="3.2" fill="#ffd090"/><circle cx="973.7" cy="65.2" r="3.2" fill="#50dcf8"/><circle cx="982.7" cy="65.2" r="3.2" fill="#50dcf8"/><circle cx="963.6" cy="72.3" r="3.2" fill="#50dcf8"/><circle cx="973.7" cy="72.3" r="3.2" fill="#50dcf8"/><circle cx="982.7" cy="72.3" r="3.2" fill="#50dcf8"/><circle cx="973.7" cy="79.8" r="3.2" fill="#50dcf8"/><circle cx="982.7" cy="79.8" r="3.2" fill="#50dcf8"/><circle cx="972.5" cy="87.6" r="3.2" fill="#50dcf8"/><circle cx="981.5" cy="87.6" r="3.2" fill="#50dcf8"/><circle cx="972.5" cy="95.5" r="3.2" fill="#50dcf8"/><circle cx="981.5" cy="95.5" r="3.2" fill="#50dcf8"/><circle cx="962.4" cy="102.9" r="3.2" fill="#50dcf8"/><circle cx="971.4" cy="102.9" r="3.2" fill="#50dcf8"/><circle cx="980.4" cy="102.9" r="3.2" fill="#50dcf8"/><circle cx="989.4" cy="102.9" r="3.2" fill="#50dcf8"/><circle cx="1028.7" cy="64.0" r="3.2" fill="#50dcf8"/><circle cx="1037.7" cy="64.0" r="3.2" fill="#50dcf8"/><circle cx="1046.7" cy="64.0" r="3.2" fill="#50dcf8"/><circle cx="1055.7" cy="64.0" r="3.2" fill="#50dcf8"/><circle cx="1019.7" cy="71.9" r="3.2" fill="#50dcf8"/><circle cx="1028.7" cy="71.9" r="3.2" fill="#50dcf8"/><circle cx="1055.7" cy="71.9" r="3.2" fill="#50dcf8"/><circle cx="1064.7" cy="71.9" r="3.2" fill="#50dcf8"/><circle cx="1018.6" cy="79.8" r="3.2" fill="#50dcf8"/><circle cx="1027.6" cy="79.8" r="3.2" fill="#50dcf8"/><circle cx="1046.7" cy="79.8" r="3.2" fill="#50dcf8"/><circle cx="1054.6" cy="79.8" r="3.2" fill="#50dcf8"/><circle cx="1063.5" cy="79.8" r="3.2" fill="#50dcf8"/><circle cx="1017.5" cy="86.5" r="3.2" fill="#50dcf8"/><circle cx="1026.5" cy="86.5" r="3.2" fill="#50dcf8"/><circle cx="1036.6" cy="86.5" r="3.2" fill="#50dcf8"/><circle cx="1053.4" cy="86.5" r="3.2" fill="#50dcf8"/><circle cx="1062.4" cy="86.5" r="3.2" fill="#50dcf8"/><circle cx="1017.5" cy="93.9" r="3.2" fill="#50dcf8"/><circle cx="1026.5" cy="93.9" r="3.2" fill="#50dcf8"/><circle cx="1053.4" cy="93.9" r="3.2" fill="#50dcf8"/><circle cx="1062.4" cy="93.9" r="3.2" fill="#50dcf8"/><circle cx="1025.3" cy="102.2" r="3.2" fill="#50dcf8"/><circle cx="1034.3" cy="102.2" r="3.2" fill="#50dcf8"/><circle cx="1043.3" cy="102.2" r="3.2" fill="#50dcf8"/><circle cx="1052.3" cy="102.2" r="3.2" fill="#50dcf8"/><circle cx="500.7" cy="133.6" r="3.2" fill="#ffd088"/><circle cx="510.2" cy="133.6" r="3.2" fill="#ffd088"/><circle cx="519.7" cy="133.6" r="3.2" fill="#ffd088"/><circle cx="529.2" cy="133.6" r="3.2" fill="#ffd088"/><circle cx="491.8" cy="141.2" r="3.2" fill="#ffd088"/><circle cx="501.3" cy="141.2" r="3.2" fill="#ffd088"/><circle cx="539.3" cy="141.2" r="3.2" fill="#ffd088"/><circle cx="501.9" cy="148.8" r="3.2" fill="#ffd088"/><circle cx="511.4" cy="148.8" r="3.2" fill="#ffd088"/><circle cx="520.9" cy="148.8" r="3.2" fill="#ffd088"/><circle cx="530.4" cy="148.8" r="3.2" fill="#ffd088"/><circle cx="531.0" cy="156.4" r="3.2" fill="#ffd088"/><circle cx="540.5" cy="156.4" r="3.2" fill="#ffd088"/><circle cx="493.6" cy="164.0" r="3.2" fill="#ffd088"/><circle cx="503.1" cy="164.0" r="3.2" fill="#ffd088"/><circle cx="531.6" cy="164.0" r="3.2" fill="#ffd088"/><circle cx="541.1" cy="164.0" r="3.2" fill="#ffd088"/><circle cx="503.7" cy="171.6" r="3.2" fill="#ffd088"/><circle cx="513.2" cy="171.6" r="3.2" fill="#ffd088"/><circle cx="522.7" cy="171.6" r="3.2" fill="#ffd088"/><circle cx="532.2" cy="171.6" r="3.2" fill="#ffd088"/><circle cx="569.4" cy="140.3" r="3.2" fill="#b0ffe6"/><circle cx="578.9" cy="140.3" r="3.2" fill="#b0ffe6"/><circle cx="588.4" cy="140.3" r="3.2" fill="#b0ffe6"/><circle cx="597.9" cy="140.3" r="3.2" fill="#b0ffe6"/><circle cx="607.4" cy="140.3" r="3.2" fill="#b0ffe6"/><circle cx="560.5" cy="147.9" r="3.2" fill="#b0ffe6"/><circle cx="570.0" cy="147.9" r="3.2" fill="#b0ffe6"/><circle cx="598.5" cy="147.9" r="3.2" fill="#b0ffe6"/><circle cx="608.0" cy="147.9" r="3.2" fill="#b0ffe6"/><circle cx="561.1" cy="155.5" r="3.2" fill="#b0ffe6"/><circle cx="570.6" cy="155.5" r="3.2" fill="#b0ffe6"/><circle cx="599.1" cy="155.5" r="3.2" fill="#b0ffe6"/><circle cx="608.6" cy="155.5" r="3.2" fill="#b0ffe6"/><circle cx="561.7" cy="163.1" r="3.2" fill="#b0ffe6"/><circle cx="571.2" cy="163.1" r="3.2" fill="#b0ffe6"/><circle cx="599.7" cy="163.1" r="3.2" fill="#b0ffe6"/><circle cx="609.2" cy="163.1" r="3.2" fill="#b0ffe6"/><circle cx="571.8" cy="170.7" r="3.2" fill="#b0ffe6"/><circle cx="581.3" cy="170.7" r="3.2" fill="#b0ffe6"/><circle cx="590.8" cy="170.7" r="3.2" fill="#b0ffe6"/><circle cx="609.8" cy="170.7" r="3.2" fill="#b0ffe6"/><circle cx="619.3" cy="170.7" r="3.2" fill="#b0ffe6"/><circle cx="644.9" cy="130.1" r="3.2" fill="#58c4ff"/><circle cx="654.4" cy="130.1" r="3.2" fill="#58c4ff"/><circle cx="636.0" cy="137.7" r="3.2" fill="#58c4ff"/><circle cx="645.5" cy="137.7" r="3.2" fill="#58c4ff"/><circle cx="655.0" cy="137.7" r="3.2" fill="#58c4ff"/><circle cx="664.5" cy="137.7" r="3.2" fill="#58c4ff"/><circle cx="674.0" cy="137.7" r="3.2" fill="#58c4ff"/><circle cx="646.1" cy="145.3" r="3.2" fill="#58c4ff"/><circle cx="655.6" cy="145.3" r="3.2" fill="#58c4ff"/><circle cx="646.7" cy="152.9" r="3.2" fill="#58c4ff"/><circle cx="656.2" cy="152.9" r="3.2" fill="#58c4ff"/><circle cx="647.3" cy="160.5" r="3.2" fill="#58c4ff"/><circle cx="656.8" cy="160.5" r="3.2" fill="#58c4ff"/><circle cx="675.8" cy="160.5" r="3.2" fill="#58c4ff"/><circle cx="685.3" cy="160.5" r="3.2" fill="#58c4ff"/><circle cx="657.4" cy="168.1" r="3.2" fill="#58c4ff"/><circle cx="666.9" cy="168.1" r="3.2" fill="#58c4ff"/><circle cx="676.4" cy="168.1" r="3.2" fill="#58c4ff"/><circle cx="702.6" cy="138.3" r="3.2" fill="#fffbe8"/><circle cx="712.1" cy="138.3" r="3.2" fill="#fffbe8"/><circle cx="740.6" cy="138.3" r="3.2" fill="#fffbe8"/><circle cx="750.1" cy="138.3" r="3.2" fill="#fffbe8"/><circle cx="703.2" cy="145.9" r="3.2" fill="#fffbe8"/><circle cx="712.7" cy="145.9" r="3.2" fill="#fffbe8"/><circle cx="741.2" cy="145.9" r="3.2" fill="#fffbe8"/><circle cx="750.7" cy="145.9" r="3.2" fill="#fffbe8"/><circle cx="703.8" cy="153.5" r="3.2" fill="#fffbe8"/><circle cx="713.3" cy="153.5" r="3.2" fill="#fffbe8"/><circle cx="741.8" cy="153.5" r="3.2" fill="#fffbe8"/><circle cx="751.3" cy="153.5" r="3.2" fill="#fffbe8"/><circle cx="704.4" cy="161.1" r="3.2" fill="#fffbe8"/><circle cx="713.9" cy="161.1" r="3.2" fill="#fffbe8"/><circle cx="742.4" cy="161.1" r="3.2" fill="#fffbe8"/><circle cx="751.9" cy="161.1" r="3.2" fill="#fffbe8"/><circle cx="714.5" cy="168.7" r="3.2" fill="#fffbe8"/><circle cx="724.0" cy="168.7" r="3.2" fill="#fffbe8"/><circle cx="733.5" cy="168.7" r="3.2" fill="#fffbe8"/><circle cx="752.5" cy="168.7" r="3.2" fill="#fffbe8"/><circle cx="762.0" cy="168.7" r="3.2" fill="#fffbe8"/><circle cx="777.1" cy="136.9" r="3.2" fill="#ffd088"/><circle cx="786.6" cy="136.9" r="3.2" fill="#ffd088"/><circle cx="805.6" cy="136.9" r="3.2" fill="#ffd088"/><circle cx="815.1" cy="136.9" r="3.2" fill="#ffd088"/><circle cx="777.7" cy="144.5" r="3.2" fill="#ffd088"/><circle cx="787.2" cy="144.5" r="3.2" fill="#ffd088"/><circle cx="796.7" cy="144.5" r="3.2" fill="#ffd088"/><circle cx="815.7" cy="144.5" r="3.2" fill="#ffd088"/><circle cx="825.2" cy="144.5" r="3.2" fill="#ffd088"/><circle cx="778.3" cy="152.1" r="3.2" fill="#ffd088"/><circle cx="787.8" cy="152.1" r="3.2" fill="#ffd088"/><circle cx="778.9" cy="159.7" r="3.2" fill="#ffd088"/><circle cx="788.4" cy="159.7" r="3.2" fill="#ffd088"/><circle cx="779.5" cy="167.3" r="3.2" fill="#ffd088"/><circle cx="789.0" cy="167.3" r="3.2" fill="#ffd088"/><circle cx="878.2" cy="127.1" r="3.2" fill="#b0ffe6"/><circle cx="887.7" cy="127.1" r="3.2" fill="#b0ffe6"/><circle cx="878.8" cy="134.7" r="3.2" fill="#b0ffe6"/><circle cx="888.3" cy="134.7" r="3.2" fill="#b0ffe6"/><circle cx="850.9" cy="142.3" r="3.2" fill="#b0ffe6"/><circle cx="860.4" cy="142.3" r="3.2" fill="#b0ffe6"/><circle cx="869.9" cy="142.3" r="3.2" fill="#b0ffe6"/><circle cx="879.4" cy="142.3" r="3.2" fill="#b0ffe6"/><circle cx="888.9" cy="142.3" r="3.2" fill="#b0ffe6"/><circle cx="842.0" cy="149.9" r="3.2" fill="#b0ffe6"/><circle cx="851.5" cy="149.9" r="3.2" fill="#b0ffe6"/><circle cx="880.0" cy="149.9" r="3.2" fill="#b0ffe6"/><circle cx="889.5" cy="149.9" r="3.2" fill="#b0ffe6"/><circle cx="842.6" cy="157.5" r="3.2" fill="#b0ffe6"/><circle cx="852.1" cy="157.5" r="3.2" fill="#b0ffe6"/><circle cx="880.6" cy="157.5" r="3.2" fill="#b0ffe6"/><circle cx="890.1" cy="157.5" r="3.2" fill="#b0ffe6"/><circle cx="852.7" cy="165.1" r="3.2" fill="#b0ffe6"/><circle cx="862.2" cy="165.1" r="3.2" fill="#b0ffe6"/><circle cx="871.7" cy="165.1" r="3.2" fill="#b0ffe6"/><circle cx="881.2" cy="165.1" r="3.2" fill="#b0ffe6"/><circle cx="890.7" cy="165.1" r="3.2" fill="#b0ffe6"/><circle cx="914.4" cy="132.6" r="3.2" fill="#58c4ff"/><circle cx="923.9" cy="132.6" r="3.2" fill="#58c4ff"/><circle cx="933.4" cy="132.6" r="3.2" fill="#58c4ff"/><circle cx="942.9" cy="132.6" r="3.2" fill="#58c4ff"/><circle cx="952.4" cy="132.6" r="3.2" fill="#58c4ff"/><circle cx="905.5" cy="140.2" r="3.2" fill="#58c4ff"/><circle cx="915.0" cy="140.2" r="3.2" fill="#58c4ff"/><circle cx="943.5" cy="140.2" r="3.2" fill="#58c4ff"/><circle cx="953.0" cy="140.2" r="3.2" fill="#58c4ff"/><circle cx="906.1" cy="147.8" r="3.2" fill="#58c4ff"/><circle cx="915.6" cy="147.8" r="3.2" fill="#58c4ff"/><circle cx="944.1" cy="147.8" r="3.2" fill="#58c4ff"/><circle cx="953.6" cy="147.8" r="3.2" fill="#58c4ff"/><circle cx="906.7" cy="155.4" r="3.2" fill="#58c4ff"/><circle cx="916.2" cy="155.4" r="3.2" fill="#58c4ff"/><circle cx="944.7" cy="155.4" r="3.2" fill="#58c4ff"/><circle cx="954.2" cy="155.4" r="3.2" fill="#58c4ff"/><circle cx="916.8" cy="163.0" r="3.2" fill="#58c4ff"/><circle cx="926.3" cy="163.0" r="3.2" fill="#58c4ff"/><circle cx="935.8" cy="163.0" r="3.2" fill="#58c4ff"/><circle cx="954.8" cy="163.0" r="3.2" fill="#58c4ff"/><circle cx="964.3" cy="163.0" r="3.2" fill="#58c4ff"/><circle cx="977.1" cy="132.8" r="3.2" fill="#fffbe8"/><circle cx="986.6" cy="132.8" r="3.2" fill="#fffbe8"/><circle cx="1015.1" cy="132.8" r="3.2" fill="#fffbe8"/><circle cx="1024.6" cy="132.8" r="3.2" fill="#fffbe8"/><circle cx="977.7" cy="140.4" r="3.2" fill="#fffbe8"/><circle cx="987.2" cy="140.4" r="3.2" fill="#fffbe8"/><circle cx="1015.7" cy="140.4" r="3.2" fill="#fffbe8"/><circle cx="1025.2" cy="140.4" r="3.2" fill="#fffbe8"/><circle cx="978.3" cy="148.0" r="3.2" fill="#fffbe8"/><circle cx="987.8" cy="148.0" r="3.2" fill="#fffbe8"/><circle cx="1016.3" cy="148.0" r="3.2" fill="#fffbe8"/><circle cx="1025.8" cy="148.0" r="3.2" fill="#fffbe8"/><circle cx="988.4" cy="155.6" r="3.2" fill="#fffbe8"/><circle cx="997.9" cy="155.6" r="3.2" fill="#fffbe8"/><circle cx="1007.4" cy="155.6" r="3.2" fill="#fffbe8"/><circle cx="1016.9" cy="155.6" r="3.2" fill="#fffbe8"/><circle cx="1026.4" cy="155.6" r="3.2" fill="#fffbe8"/><circle cx="1017.5" cy="163.2" r="3.2" fill="#fffbe8"/><circle cx="1027.0" cy="163.2" r="3.2" fill="#fffbe8"/><circle cx="989.6" cy="170.8" r="3.2" fill="#fffbe8"/><circle cx="999.1" cy="170.8" r="3.2" fill="#fffbe8"/><circle cx="1008.6" cy="170.8" r="3.2" fill="#fffbe8"/><circle cx="1018.1" cy="170.8" r="3.2" fill="#fffbe8"/><circle cx="516.2" cy="193.0" r="3.2" fill="#b0ffe6"/><circle cx="525.7" cy="193.0" r="3.2" fill="#b0ffe6"/><circle cx="535.2" cy="193.0" r="3.2" fill="#b0ffe6"/><circle cx="544.7" cy="193.0" r="3.2" fill="#b0ffe6"/><circle cx="507.3" cy="200.6" r="3.2" fill="#b0ffe6"/><circle cx="516.8" cy="200.6" r="3.2" fill="#b0ffe6"/><circle cx="545.3" cy="200.6" r="3.2" fill="#b0ffe6"/><circle cx="554.8" cy="200.6" r="3.2" fill="#b0ffe6"/><circle cx="545.9" cy="208.2" r="3.2" fill="#b0ffe6"/><circle cx="555.4" cy="208.2" r="3.2" fill="#b0ffe6"/><circle cx="518.0" cy="215.8" r="3.2" fill="#b0ffe6"/><circle cx="527.5" cy="215.8" r="3.2" fill="#b0ffe6"/><circle cx="537.0" cy="215.8" r="3.2" fill="#b0ffe6"/><circle cx="546.5" cy="215.8" r="3.2" fill="#b0ffe6"/><circle cx="509.1" cy="223.4" r="3.2" fill="#b0ffe6"/><circle cx="518.6" cy="223.4" r="3.2" fill="#b0ffe6"/><circle cx="509.7" cy="231.0" r="3.2" fill="#b0ffe6"/><circle cx="519.2" cy="231.0" r="3.2" fill="#b0ffe6"/><circle cx="528.7" cy="231.0" r="3.2" fill="#b0ffe6"/><circle cx="538.2" cy="231.0" r="3.2" fill="#b0ffe6"/><circle cx="547.7" cy="231.0" r="3.2" fill="#b0ffe6"/><circle cx="557.2" cy="231.0" r="3.2" fill="#b0ffe6"/><circle cx="583.2" cy="192.3" r="3.2" fill="#b0ffe6"/><circle cx="592.7" cy="192.3" r="3.2" fill="#b0ffe6"/><circle cx="602.2" cy="192.3" r="3.2" fill="#b0ffe6"/><circle cx="611.7" cy="192.3" r="3.2" fill="#b0ffe6"/><circle cx="574.3" cy="199.9" r="3.2" fill="#b0ffe6"/><circle cx="583.8" cy="199.9" r="3.2" fill="#b0ffe6"/><circle cx="612.3" cy="199.9" r="3.2" fill="#b0ffe6"/><circle cx="621.8" cy="199.9" r="3.2" fill="#b0ffe6"/><circle cx="574.9" cy="207.5" r="3.2" fill="#b0ffe6"/><circle cx="584.4" cy="207.5" r="3.2" fill="#b0ffe6"/><circle cx="603.4" cy="207.5" r="3.2" fill="#b0ffe6"/><circle cx="612.9" cy="207.5" r="3.2" fill="#b0ffe6"/><circle cx="622.4" cy="207.5" r="3.2" fill="#b0ffe6"/><circle cx="575.5" cy="215.1" r="3.2" fill="#b0ffe6"/><circle cx="585.0" cy="215.1" r="3.2" fill="#b0ffe6"/><circle cx="594.5" cy="215.1" r="3.2" fill="#b0ffe6"/><circle cx="613.5" cy="215.1" r="3.2" fill="#b0ffe6"/><circle cx="623.0" cy="215.1" r="3.2" fill="#b0ffe6"/><circle cx="576.1" cy="222.7" r="3.2" fill="#b0ffe6"/><circle cx="585.6" cy="222.7" r="3.2" fill="#b0ffe6"/><circle cx="614.1" cy="222.7" r="3.2" fill="#b0ffe6"/><circle cx="623.6" cy="222.7" r="3.2" fill="#b0ffe6"/><circle cx="586.2" cy="230.3" r="3.2" fill="#b0ffe6"/><circle cx="595.7" cy="230.3" r="3.2" fill="#b0ffe6"/><circle cx="605.2" cy="230.3" r="3.2" fill="#b0ffe6"/><circle cx="614.7" cy="230.3" r="3.2" fill="#b0ffe6"/><circle cx="648.1" cy="191.7" r="3.2" fill="#ffd088"/><circle cx="657.6" cy="191.7" r="3.2" fill="#ffd088"/><circle cx="667.1" cy="191.7" r="3.2" fill="#ffd088"/><circle cx="676.6" cy="191.7" r="3.2" fill="#ffd088"/><circle cx="639.2" cy="199.3" r="3.2" fill="#ffd088"/><circle cx="648.7" cy="199.3" r="3.2" fill="#ffd088"/><circle cx="677.2" cy="199.3" r="3.2" fill="#ffd088"/><circle cx="686.7" cy="199.3" r="3.2" fill="#ffd088"/><circle cx="639.8" cy="206.9" r="3.2" fill="#ffd088"/><circle cx="649.3" cy="206.9" r="3.2" fill="#ffd088"/><circle cx="677.8" cy="206.9" r="3.2" fill="#ffd088"/><circle cx="687.3" cy="206.9" r="3.2" fill="#ffd088"/><circle cx="640.4" cy="214.5" r="3.2" fill="#ffd088"/><circle cx="649.9" cy="214.5" r="3.2" fill="#ffd088"/><circle cx="678.4" cy="214.5" r="3.2" fill="#ffd088"/><circle cx="687.9" cy="214.5" r="3.2" fill="#ffd088"/><circle cx="641.0" cy="222.1" r="3.2" fill="#ffd088"/><circle cx="650.5" cy="222.1" r="3.2" fill="#ffd088"/><circle cx="679.0" cy="222.1" r="3.2" fill="#ffd088"/><circle cx="688.5" cy="222.1" r="3.2" fill="#ffd088"/><circle cx="651.1" cy="229.7" r="3.2" fill="#ffd088"/><circle cx="660.6" cy="229.7" r="3.2" fill="#ffd088"/><circle cx="670.1" cy="229.7" r="3.2" fill="#ffd088"/><circle cx="679.6" cy="229.7" r="3.2" fill="#ffd088"/><circle cx="712.5" cy="197.7" r="3.2" fill="#ffd088"/><circle cx="722.0" cy="197.7" r="3.2" fill="#ffd088"/><circle cx="731.5" cy="197.7" r="3.2" fill="#ffd088"/><circle cx="741.0" cy="197.7" r="3.2" fill="#ffd088"/><circle cx="703.6" cy="205.3" r="3.2" fill="#ffd088"/><circle cx="713.1" cy="205.3" r="3.2" fill="#ffd088"/><circle cx="741.6" cy="205.3" r="3.2" fill="#ffd088"/><circle cx="751.1" cy="205.3" r="3.2" fill="#ffd088"/><circle cx="704.2" cy="212.9" r="3.2" fill="#ffd088"/><circle cx="713.7" cy="212.9" r="3.2" fill="#ffd088"/><circle cx="704.8" cy="220.5" r="3.2" fill="#ffd088"/><circle cx="714.3" cy="220.5" r="3.2" fill="#ffd088"/><circle cx="742.8" cy="220.5" r="3.2" fill="#ffd088"/><circle cx="752.3" cy="220.5" r="3.2" fill="#ffd088"/><circle cx="714.9" cy="228.1" r="3.2" fill="#ffd088"/><circle cx="724.4" cy="228.1" r="3.2" fill="#ffd088"/><circle cx="733.9" cy="228.1" r="3.2" fill="#ffd088"/><circle cx="743.4" cy="228.1" r="3.2" fill="#ffd088"/><circle cx="776.7" cy="188.6" r="3.2" fill="#ffd088"/><circle cx="786.2" cy="188.6" r="3.2" fill="#ffd088"/><circle cx="767.8" cy="196.2" r="3.2" fill="#ffd088"/><circle cx="777.3" cy="196.2" r="3.2" fill="#ffd088"/><circle cx="786.8" cy="196.2" r="3.2" fill="#ffd088"/><circle cx="796.3" cy="196.2" r="3.2" fill="#ffd088"/><circle cx="805.8" cy="196.2" r="3.2" fill="#ffd088"/><circle cx="777.9" cy="203.8" r="3.2" fill="#ffd088"/><circle cx="787.4" cy="203.8" r="3.2" fill="#ffd088"/><circle cx="778.5" cy="211.4" r="3.2" fill="#ffd088"/><circle cx="788.0" cy="211.4" r="3.2" fill="#ffd088"/><circle cx="779.1" cy="219.0" r="3.2" fill="#ffd088"/><circle cx="788.6" cy="219.0" r="3.2" fill="#ffd088"/><circle cx="807.6" cy="219.0" r="3.2" fill="#ffd088"/><circle cx="817.1" cy="219.0" r="3.2" fill="#ffd088"/><circle cx="789.2" cy="226.6" r="3.2" fill="#ffd088"/><circle cx="798.7" cy="226.6" r="3.2" fill="#ffd088"/><circle cx="808.2" cy="226.6" r="3.2" fill="#ffd088"/><circle cx="840.3" cy="186.7" r="3.2" fill="#b0ffe6"/><circle cx="849.8" cy="186.7" r="3.2" fill="#b0ffe6"/><circle cx="859.3" cy="186.7" r="3.2" fill="#b0ffe6"/><circle cx="868.8" cy="186.7" r="3.2" fill="#b0ffe6"/><circle cx="831.4" cy="194.3" r="3.2" fill="#b0ffe6"/><circle cx="840.9" cy="194.3" r="3.2" fill="#b0ffe6"/><circle cx="869.4" cy="194.3" r="3.2" fill="#b0ffe6"/><circle cx="878.9" cy="194.3" r="3.2" fill="#b0ffe6"/><circle cx="870.0" cy="201.9" r="3.2" fill="#b0ffe6"/><circle cx="879.5" cy="201.9" r="3.2" fill="#b0ffe6"/><circle cx="842.1" cy="209.5" r="3.2" fill="#b0ffe6"/><circle cx="851.6" cy="209.5" r="3.2" fill="#b0ffe6"/><circle cx="861.1" cy="209.5" r="3.2" fill="#b0ffe6"/><circle cx="870.6" cy="209.5" r="3.2" fill="#b0ffe6"/><circle cx="833.2" cy="217.1" r="3.2" fill="#b0ffe6"/><circle cx="842.7" cy="217.1" r="3.2" fill="#b0ffe6"/><circle cx="833.8" cy="224.7" r="3.2" fill="#b0ffe6"/><circle cx="843.3" cy="224.7" r="3.2" fill="#b0ffe6"/><circle cx="852.8" cy="224.7" r="3.2" fill="#b0ffe6"/><circle cx="862.3" cy="224.7" r="3.2" fill="#b0ffe6"/><circle cx="871.8" cy="224.7" r="3.2" fill="#b0ffe6"/><circle cx="881.3" cy="224.7" r="3.2" fill="#b0ffe6"/><circle cx="902.7" cy="184.9" r="3.2" fill="#b0ffe6"/><circle cx="912.2" cy="184.9" r="3.2" fill="#b0ffe6"/><circle cx="921.7" cy="184.9" r="3.2" fill="#b0ffe6"/><circle cx="931.2" cy="184.9" r="3.2" fill="#b0ffe6"/><circle cx="893.8" cy="192.5" r="3.2" fill="#b0ffe6"/><circle cx="903.3" cy="192.5" r="3.2" fill="#b0ffe6"/><circle cx="931.8" cy="192.5" r="3.2" fill="#b0ffe6"/><circle cx="941.3" cy="192.5" r="3.2" fill="#b0ffe6"/><circle cx="894.4" cy="200.1" r="3.2" fill="#b0ffe6"/><circle cx="903.9" cy="200.1" r="3.2" fill="#b0ffe6"/><circle cx="922.9" cy="200.1" r="3.2" fill="#b0ffe6"/><circle cx="932.4" cy="200.1" r="3.2" fill="#b0ffe6"/><circle cx="941.9" cy="200.1" r="3.2" fill="#b0ffe6"/><circle cx="895.0" cy="207.7" r="3.2" fill="#b0ffe6"/><circle cx="904.5" cy="207.7" r="3.2" fill="#b0ffe6"/><circle cx="914.0" cy="207.7" r="3.2" fill="#b0ffe6"/><circle cx="933.0" cy="207.7" r="3.2" fill="#b0ffe6"/><circle cx="942.5" cy="207.7" r="3.2" fill="#b0ffe6"/><circle cx="895.6" cy="215.3" r="3.2" fill="#b0ffe6"/><circle cx="905.1" cy="215.3" r="3.2" fill="#b0ffe6"/><circle cx="933.6" cy="215.3" r="3.2" fill="#b0ffe6"/><circle cx="943.1" cy="215.3" r="3.2" fill="#b0ffe6"/><circle cx="905.7" cy="222.9" r="3.2" fill="#b0ffe6"/><circle cx="915.2" cy="222.9" r="3.2" fill="#b0ffe6"/><circle cx="924.7" cy="222.9" r="3.2" fill="#b0ffe6"/><circle cx="934.2" cy="222.9" r="3.2" fill="#b0ffe6"/><circle cx="974.7" cy="183.0" r="3.2" fill="#b0ffe6"/><circle cx="984.2" cy="183.0" r="3.2" fill="#b0ffe6"/><circle cx="965.8" cy="190.6" r="3.2" fill="#b0ffe6"/><circle cx="975.3" cy="190.6" r="3.2" fill="#b0ffe6"/><circle cx="984.8" cy="190.6" r="3.2" fill="#b0ffe6"/><circle cx="975.9" cy="198.2" r="3.2" fill="#b0ffe6"/><circle cx="985.4" cy="198.2" r="3.2" fill="#b0ffe6"/><circle cx="976.5" cy="205.8" r="3.2" fill="#b0ffe6"/><circle cx="986.0" cy="205.8" r="3.2" fill="#b0ffe6"/><circle cx="977.1" cy="213.4" r="3.2" fill="#b0ffe6"/><circle cx="986.6" cy="213.4" r="3.2" fill="#b0ffe6"/><circle cx="968.2" cy="221.0" r="3.2" fill="#b0ffe6"/><circle cx="977.7" cy="221.0" r="3.2" fill="#b0ffe6"/><circle cx="987.2" cy="221.0" r="3.2" fill="#b0ffe6"/><circle cx="996.7" cy="221.0" r="3.2" fill="#b0ffe6"/><circle cx="1025.3" cy="181.7" r="3.2" fill="#b0ffe6"/><circle cx="1034.8" cy="181.7" r="3.2" fill="#b0ffe6"/><circle cx="1044.3" cy="181.7" r="3.2" fill="#b0ffe6"/><circle cx="1053.8" cy="181.7" r="3.2" fill="#b0ffe6"/><circle cx="1016.4" cy="189.3" r="3.2" fill="#b0ffe6"/><circle cx="1025.9" cy="189.3" r="3.2" fill="#b0ffe6"/><circle cx="1054.4" cy="189.3" r="3.2" fill="#b0ffe6"/><circle cx="1063.9" cy="189.3" r="3.2" fill="#b0ffe6"/><circle cx="1026.5" cy="196.9" r="3.2" fill="#b0ffe6"/><circle cx="1036.0" cy="196.9" r="3.2" fill="#b0ffe6"/><circle cx="1045.5" cy="196.9" r="3.2" fill="#b0ffe6"/><circle cx="1055.0" cy="196.9" r="3.2" fill="#b0ffe6"/><circle cx="1017.6" cy="204.5" r="3.2" fill="#b0ffe6"/><circle cx="1027.1" cy="204.5" r="3.2" fill="#b0ffe6"/><circle cx="1055.6" cy="204.5" r="3.2" fill="#b0ffe6"/><circle cx="1065.1" cy="204.5" r="3.2" fill="#b0ffe6"/><circle cx="1018.2" cy="212.1" r="3.2" fill="#b0ffe6"/><circle cx="1027.7" cy="212.1" r="3.2" fill="#b0ffe6"/><circle cx="1056.2" cy="212.1" r="3.2" fill="#b0ffe6"/><circle cx="1065.7" cy="212.1" r="3.2" fill="#b0ffe6"/><circle cx="1028.3" cy="219.7" r="3.2" fill="#b0ffe6"/><circle cx="1037.8" cy="219.7" r="3.2" fill="#b0ffe6"/><circle cx="1047.3" cy="219.7" r="3.2" fill="#b0ffe6"/><circle cx="1056.8" cy="219.7" r="3.2" fill="#b0ffe6"/></g>
</svg>
</body></html>
